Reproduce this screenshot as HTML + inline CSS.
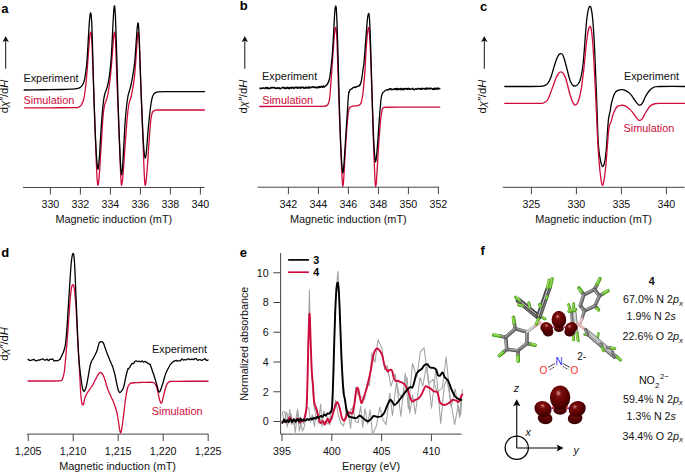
<!DOCTYPE html>
<html><head><meta charset="utf-8"><title>Figure</title><style>
html,body{margin:0;padding:0;background:#fff;overflow:hidden;}
svg{display:block;}
text{font-family:"Liberation Sans",sans-serif;}
</style></head><body>
<svg width="685" height="473" viewBox="0 0 685 473">
<rect width="685" height="473" fill="#fff"/>
<text x="1.2" y="12.6" font-size="13" text-anchor="start" font-weight="bold" font-style="normal" fill="#000" >a</text>
<line x1="5.7" y1="40" x2="5.7" y2="68.7" stroke="#111" stroke-width="1" />
<path d="M5.7,36 L2.5,42 L5.7,40.8 L8.9,42 Z" fill="#111"/>
<text transform="translate(7.9,113.2) rotate(-90)" font-size="11.2" fill="#111">d<tspan font-style="italic">χ</tspan><tspan dx="0.2">″</tspan><tspan dx="-0.3">/d</tspan><tspan font-style="italic">H</tspan></text>
<text x="23.4" y="81.8" font-size="10.9" text-anchor="start" font-weight="normal" font-style="normal" fill="#111" >Experiment</text>
<text x="23.5" y="103.8" font-size="10.9" text-anchor="start" font-weight="normal" font-style="normal" fill="#cf0b3b" >Simulation</text>
<line x1="23" y1="187.5" x2="204.5" y2="187.5" stroke="#444" stroke-width="1" />
<line x1="50.4" y1="187.5" x2="50.4" y2="194.5" stroke="#444" stroke-width="1" />
<text x="50.4" y="207.9" font-size="10.7" text-anchor="middle" font-weight="normal" font-style="normal" fill="#111" >330</text>
<line x1="80.4" y1="187.5" x2="80.4" y2="194.5" stroke="#444" stroke-width="1" />
<text x="80.4" y="207.9" font-size="10.7" text-anchor="middle" font-weight="normal" font-style="normal" fill="#111" >332</text>
<line x1="110.4" y1="187.5" x2="110.4" y2="194.5" stroke="#444" stroke-width="1" />
<text x="110.4" y="207.9" font-size="10.7" text-anchor="middle" font-weight="normal" font-style="normal" fill="#111" >334</text>
<line x1="140.4" y1="187.5" x2="140.4" y2="194.5" stroke="#444" stroke-width="1" />
<text x="140.4" y="207.9" font-size="10.7" text-anchor="middle" font-weight="normal" font-style="normal" fill="#111" >336</text>
<line x1="170.4" y1="187.5" x2="170.4" y2="194.5" stroke="#444" stroke-width="1" />
<text x="170.4" y="207.9" font-size="10.7" text-anchor="middle" font-weight="normal" font-style="normal" fill="#111" >338</text>
<line x1="200.4" y1="187.5" x2="200.4" y2="194.5" stroke="#444" stroke-width="1" />
<text x="200.4" y="207.9" font-size="10.7" text-anchor="middle" font-weight="normal" font-style="normal" fill="#111" >340</text>
<text x="113.8" y="223.1" font-size="10.9" text-anchor="middle" font-weight="normal" font-style="normal" fill="#111" >Magnetic induction (mT)</text>
<path d="M24.5,107.8C28.75,107.8 41.58,107.83 50,107.8C58.42,107.77 70.25,107.7 75,107.6C79.75,107.5 77.58,107.47 78.5,107.2C79.42,106.93 79.92,106.57 80.5,106C81.08,105.43 81.5,104.8 82,103.8C82.5,102.8 83.05,101.63 83.5,100C83.95,98.37 84.35,96.17 84.7,94C85.05,91.83 85.3,89.67 85.6,87C85.9,84.33 86.18,81.5 86.5,78C86.82,74.5 87.17,70.33 87.5,66C87.83,61.67 88.17,56.5 88.5,52C88.83,47.5 89.22,42.08 89.5,39C89.78,35.92 90,34.63 90.2,33.5C90.4,32.37 90.52,32.12 90.7,32.2C90.88,32.28 91.08,32.03 91.3,34C91.52,35.97 91.75,38.83 92,44C92.25,49.17 92.53,57.67 92.8,65C93.07,72.33 93.33,80.5 93.6,88C93.87,95.5 94.12,102.17 94.4,110C94.68,117.83 95,126.67 95.3,135C95.6,143.33 95.92,153 96.2,160C96.48,167 96.77,173 97,177C97.23,181 97.43,182.63 97.6,184C97.77,185.37 97.85,185.28 98,185.2C98.15,185.12 98.3,185.03 98.5,183.5C98.7,181.97 98.95,179.08 99.2,176C99.45,172.92 99.62,171 100,165C100.38,159 100.98,148.17 101.5,140C102.02,131.83 102.62,121.67 103.1,116C103.58,110.33 103.95,108.42 104.4,106C104.85,103.58 105.33,102.92 105.8,101.5C106.27,100.08 106.78,99.42 107.25,97.5C107.72,95.58 108.14,92.92 108.6,90C109.06,87.08 109.57,83.67 110,80C110.43,76.33 110.83,72.17 111.2,68C111.58,63.83 111.92,59.33 112.25,55C112.58,50.67 112.92,45.42 113.2,42C113.48,38.58 113.7,36.13 113.9,34.5C114.1,32.87 114.22,32.28 114.4,32.2C114.58,32.12 114.78,31.87 115,34C115.22,36.13 115.45,39.33 115.7,45C115.95,50.67 116.23,60.5 116.5,68C116.77,75.5 117.03,83 117.3,90C117.57,97 117.8,102.5 118.1,110C118.4,117.5 118.78,127 119.1,135C119.42,143 119.72,151 120,158C120.28,165 120.58,172.67 120.8,177C121.02,181.33 121.17,182.63 121.3,184C121.43,185.37 121.47,185.28 121.6,185.2C121.73,185.12 121.88,185.03 122.1,183.5C122.32,181.97 122.62,179.08 122.9,176C123.18,172.92 123.32,171 123.75,165C124.18,159 124.92,147.83 125.5,140C126.08,132.17 126.68,123.67 127.2,118C127.72,112.33 128.13,109 128.6,106C129.07,103 129.56,101.62 130,100C130.44,98.38 130.78,98.25 131.25,96.25C131.72,94.25 132.28,91.12 132.8,88C133.33,84.88 133.92,81.83 134.4,77.5C134.88,73.17 135.3,67.25 135.7,62C136.1,56.75 136.48,50.33 136.8,46C137.12,41.67 137.38,38.27 137.6,36C137.82,33.73 137.92,32.73 138.1,32.4C138.28,32.07 138.48,31.9 138.7,34C138.92,36.1 139.15,39.33 139.4,45C139.65,50.67 139.93,60.5 140.2,68C140.47,75.5 140.72,83 141,90C141.28,97 141.6,102.5 141.9,110C142.2,117.5 142.52,127 142.8,135C143.08,143 143.33,151 143.6,158C143.87,165 144.18,172.67 144.4,177C144.62,181.33 144.75,182.63 144.9,184C145.05,185.37 145.15,185.28 145.3,185.2C145.45,185.12 145.58,185.03 145.8,183.5C146.02,181.97 146.32,179.08 146.6,176C146.88,172.92 147.05,171.33 147.5,165C147.95,158.67 148.78,145.17 149.3,138C149.82,130.83 150.22,125.83 150.6,122C150.98,118.17 151.2,116.75 151.6,115C152,113.25 152.43,112.28 153,111.5C153.57,110.72 154.17,110.55 155,110.3C155.83,110.05 155.5,110.05 158,110C160.5,109.95 162.25,110 170,110C177.75,110 198.75,110 204.5,110" fill="none" stroke="#cf0b3b" stroke-width="1.3" stroke-linejoin="round" stroke-linecap="round" />
<path d="M24.2,90C26,89.97 30.7,89.85 35,89.8C39.3,89.75 45.5,89.75 50,89.7C54.5,89.65 58.67,89.58 62,89.5C65.33,89.42 67.83,89.32 70,89.2C72.17,89.08 73.67,88.95 75,88.8C76.33,88.65 77.08,88.57 78,88.3C78.92,88.03 79.75,87.75 80.5,87.2C81.25,86.65 81.92,85.95 82.5,85C83.08,84.05 83.58,82.83 84,81.5C84.42,80.17 84.67,78.92 85,77C85.33,75.08 85.68,72.5 86,70C86.32,67.5 86.6,65.67 86.9,62C87.2,58.33 87.5,53 87.8,48C88.1,43 88.4,36.83 88.7,32C89,27.17 89.35,22 89.6,19C89.85,16 90.03,15 90.2,14C90.37,13 90.45,12.92 90.6,13C90.75,13.08 90.9,12.67 91.1,14.5C91.3,16.33 91.57,18.92 91.8,24C92.03,29.08 92.25,36.5 92.5,45C92.75,53.5 93.02,65 93.3,75C93.58,85 93.88,95.5 94.2,105C94.52,114.5 94.87,124.17 95.2,132C95.53,139.83 95.88,146.67 96.2,152C96.52,157.33 96.85,161.25 97.1,164C97.35,166.75 97.53,167.7 97.7,168.5C97.87,169.3 97.93,169.38 98.1,168.8C98.27,168.22 98.45,167.47 98.7,165C98.95,162.53 99.25,159.17 99.6,154C99.95,148.83 100.37,140.67 100.8,134C101.23,127.33 101.75,119.5 102.2,114C102.65,108.5 103.07,104.33 103.5,101C103.93,97.67 104.34,95.83 104.8,94C105.26,92.17 105.8,91.33 106.25,90C106.7,88.67 107.08,87.67 107.5,86C107.92,84.33 108.33,82.5 108.75,80C109.17,77.5 109.59,74.67 110,71C110.41,67.33 110.83,63.17 111.2,58C111.57,52.83 111.88,46 112.2,40C112.52,34 112.83,27 113.1,22C113.37,17 113.6,12.63 113.8,10C114,7.37 114.13,6.62 114.3,6.2C114.47,5.78 114.6,5.53 114.8,7.5C115,9.47 115.25,12.25 115.5,18C115.75,23.75 116.02,33 116.3,42C116.58,51 116.9,61.83 117.2,72C117.5,82.17 117.78,93 118.1,103C118.42,113 118.77,123.17 119.1,132C119.43,140.83 119.8,149.67 120.1,156C120.4,162.33 120.67,166.92 120.9,170C121.13,173.08 121.3,174.17 121.5,174.5C121.7,174.83 121.85,174.42 122.1,172C122.35,169.58 122.67,165.33 123,160C123.33,154.67 123.72,146.67 124.1,140C124.48,133.33 124.87,125.83 125.3,120C125.73,114.17 126.25,109 126.7,105C127.15,101 127.53,98.42 128,96C128.47,93.58 129,92.33 129.5,90.5C130,88.67 130.5,87.17 131,85C131.5,82.83 132.03,80.17 132.5,77.5C132.97,74.83 133.4,71.92 133.8,69C134.2,66.08 134.55,63.83 134.9,60C135.25,56.17 135.58,50.5 135.9,46C136.22,41.5 136.53,36.42 136.8,33C137.07,29.58 137.32,27.13 137.5,25.5C137.68,23.87 137.75,23.37 137.9,23.2C138.05,23.03 138.2,22.53 138.4,24.5C138.6,26.47 138.85,29.42 139.1,35C139.35,40.58 139.62,49.83 139.9,58C140.18,66.17 140.5,75.67 140.8,84C141.1,92.33 141.38,100.33 141.7,108C142.02,115.67 142.37,123.5 142.7,130C143.03,136.5 143.38,142.67 143.7,147C144.02,151.33 144.35,154.12 144.6,156C144.85,157.88 144.98,158.3 145.2,158.3C145.42,158.3 145.62,158.05 145.9,156C146.18,153.95 146.53,150.33 146.9,146C147.27,141.67 147.68,134.83 148.1,130C148.52,125.17 148.97,121 149.4,117C149.83,113 150.27,109.08 150.7,106C151.13,102.92 151.53,100.42 152,98.5C152.47,96.58 152.92,95.48 153.5,94.5C154.08,93.52 154.75,93.03 155.5,92.6C156.25,92.17 156.42,92.07 158,91.9C159.58,91.73 160.5,91.65 165,91.6C169.5,91.55 178.42,91.58 185,91.6C191.58,91.62 201.25,91.68 204.5,91.7" fill="none" stroke="#000" stroke-width="1.3" stroke-linejoin="round" stroke-linecap="round" />
<text x="239.8" y="10.2" font-size="13" text-anchor="start" font-weight="bold" font-style="normal" fill="#000" >b</text>
<line x1="244.8" y1="40" x2="244.8" y2="68.7" stroke="#111" stroke-width="1" />
<path d="M244.8,36 L241.6,42 L244.8,40.8 L248,42 Z" fill="#111"/>
<text transform="translate(246.5,113.4) rotate(-90)" font-size="11.2" fill="#111">d<tspan font-style="italic">χ</tspan><tspan dx="0.2">″</tspan><tspan dx="-0.3">/d</tspan><tspan font-style="italic">H</tspan></text>
<text x="262.1" y="80.1" font-size="10.9" text-anchor="start" font-weight="normal" font-style="normal" fill="#111" >Experiment</text>
<text x="262.2" y="104.2" font-size="10.9" text-anchor="start" font-weight="normal" font-style="normal" fill="#cf0b3b" >Simulation</text>
<line x1="257.5" y1="187.2" x2="439.1" y2="187.2" stroke="#444" stroke-width="1" />
<line x1="288.4" y1="187.2" x2="288.4" y2="194.2" stroke="#444" stroke-width="1" />
<text x="288.4" y="207.8" font-size="10.7" text-anchor="middle" font-weight="normal" font-style="normal" fill="#111" >342</text>
<line x1="318.4" y1="187.2" x2="318.4" y2="194.2" stroke="#444" stroke-width="1" />
<text x="318.4" y="207.8" font-size="10.7" text-anchor="middle" font-weight="normal" font-style="normal" fill="#111" >344</text>
<line x1="348.4" y1="187.2" x2="348.4" y2="194.2" stroke="#444" stroke-width="1" />
<text x="348.4" y="207.8" font-size="10.7" text-anchor="middle" font-weight="normal" font-style="normal" fill="#111" >346</text>
<line x1="378.4" y1="187.2" x2="378.4" y2="194.2" stroke="#444" stroke-width="1" />
<text x="378.4" y="207.8" font-size="10.7" text-anchor="middle" font-weight="normal" font-style="normal" fill="#111" >348</text>
<line x1="408.4" y1="187.2" x2="408.4" y2="194.2" stroke="#444" stroke-width="1" />
<text x="408.4" y="207.8" font-size="10.7" text-anchor="middle" font-weight="normal" font-style="normal" fill="#111" >350</text>
<line x1="438.4" y1="187.2" x2="438.4" y2="194.2" stroke="#444" stroke-width="1" />
<text x="438.4" y="207.8" font-size="10.7" text-anchor="middle" font-weight="normal" font-style="normal" fill="#111" >352</text>
<text x="348.3" y="222.9" font-size="10.9" text-anchor="middle" font-weight="normal" font-style="normal" fill="#111" >Magnetic induction (mT)</text>
<path d="M259.8,106.5C266.5,106.48 289.63,106.43 300,106.4C310.37,106.37 317.73,106.37 322,106.3C326.27,106.23 324.68,106.22 325.6,106C326.52,105.78 326.98,105.58 327.5,105C328.02,104.42 328.37,103.83 328.75,102.5C329.13,101.17 329.49,99.58 329.8,97C330.11,94.42 330.32,90.67 330.6,87C330.88,83.33 331.18,79.33 331.5,75C331.82,70.67 332.17,65.83 332.5,61C332.83,56.17 333.17,50.5 333.5,46C333.83,41.5 334.22,36.92 334.5,34C334.78,31.08 335.02,29.58 335.2,28.5C335.38,27.42 335.45,27.42 335.6,27.5C335.75,27.58 335.88,26.92 336.1,29C336.32,31.08 336.63,34.5 336.9,40C337.17,45.5 337.43,54 337.7,62C337.97,70 338.23,79.67 338.5,88C338.77,96.33 339,103.67 339.3,112C339.6,120.33 339.97,129.67 340.3,138C340.63,146.33 341,155.33 341.3,162C341.6,168.67 341.88,174.17 342.1,178C342.32,181.83 342.47,183.67 342.6,185C342.73,186.33 342.78,186.17 342.9,186C343.02,185.83 343.13,185.67 343.3,184C343.47,182.33 343.65,180 343.9,176C344.15,172 344.42,166.5 344.8,160C345.18,153.5 345.75,143.67 346.2,137C346.65,130.33 347.1,124.42 347.5,120C347.9,115.58 348.18,112.62 348.6,110.5C349.02,108.38 349.35,108.02 350,107.3C350.65,106.58 351.5,106.45 352.5,106.2C353.5,105.95 354.96,105.93 356,105.8C357.04,105.67 358.05,105.65 358.75,105.4C359.45,105.15 359.78,104.78 360.2,104.3C360.62,103.82 360.92,103.55 361.25,102.5C361.58,101.45 361.89,99.75 362.2,98C362.51,96.25 362.78,94.83 363.1,92C363.42,89.17 363.78,84.67 364.1,81C364.42,77.33 364.68,74.83 365,70C365.32,65.17 365.67,57.33 366,52C366.33,46.67 366.68,41.75 367,38C367.32,34.25 367.65,31.27 367.9,29.5C368.15,27.73 368.3,27.4 368.5,27.4C368.7,27.4 368.87,27.4 369.1,29.5C369.33,31.6 369.65,35.75 369.9,40C370.15,44.25 370.33,48 370.6,55C370.87,62 371.18,72.5 371.5,82C371.82,91.5 372.18,102.33 372.5,112C372.82,121.67 373.1,131.33 373.4,140C373.7,148.67 374.03,157.33 374.3,164C374.57,170.67 374.82,176.42 375,180C375.18,183.58 375.27,184.5 375.4,185.5C375.53,186.5 375.65,186.42 375.8,186C375.95,185.58 376.1,185.33 376.3,183C376.5,180.67 376.8,175.17 377,172C377.2,168.83 377.17,169.33 377.5,164C377.83,158.67 378.53,146.83 379,140C379.47,133.17 379.93,127.17 380.3,123C380.68,118.83 380.88,117.38 381.25,115C381.62,112.62 382.08,109.98 382.5,108.75C382.92,107.52 383.23,107.85 383.75,107.6C384.27,107.35 382.89,107.33 385.6,107.25C388.31,107.17 390.97,107.12 400,107.1C409.03,107.07 433.17,107.1 439.8,107.1" fill="none" stroke="#cf0b3b" stroke-width="1.3" stroke-linejoin="round" stroke-linecap="round" />
<path d="M259.8,88.13 L260.35,88.28 L260.9,88.83 L261.45,88.13 L262,88.19 L262.55,88.3 L263.1,87.69 L263.65,88.18 L264.21,88.35 L264.76,88.59 L265.31,87.54 L265.86,87.84 L266.41,87.52 L266.96,88.59 L267.51,88.41 L268.06,87.43 L268.61,88.84 L269.16,88.8 L269.71,88.33 L270.26,88.27 L270.81,87.58 L271.36,87.36 L271.92,88.12 L272.47,87.41 L273.02,87.6 L273.57,87.68 L274.12,87.35 L274.67,88 L275.22,87.96 L275.77,88.55 L276.32,88.06 L276.87,88.24 L277.42,88.02 L277.97,88.26 L278.52,87.95 L279.07,87.68 L279.62,88.75 L280.18,88.74 L280.73,88.5 L281.28,88.3 L281.83,87.7 L282.38,87.57 L282.93,87.65 L283.48,87.32 L284.03,88.36 L284.58,87.8 L285.13,88.47 L285.68,87.77 L286.23,88.62 L286.78,88.45 L287.33,87.18 L287.88,87.49 L288.44,88.53 L288.99,87.86 L289.54,88.62 L290.09,87.74 L290.64,87.25 L291.19,88.08 L291.74,88.3 L292.29,87.53 L292.84,87.25 L293.39,87.61 L293.94,88.56 L294.49,88.24 L295.04,87.28 L295.59,87.46 L296.15,87.24 L296.7,87.17 L297.25,88.27 L297.8,87.34 L298.35,87.91 L298.9,87.73 L299.45,87.34 L300,88.15 L300.56,87.23 L301.12,87.98 L301.69,87.17 L302.25,87.61 L302.81,87.28 L303.38,87.34 L303.94,88.38 L304.5,88.11 L305.06,87.34 L305.62,88.19 L306.19,87.16 L306.75,87.42 L307.31,88.09 L307.88,87.75 L308.44,86.92 L309,88.23 L309.56,87.05 L310.12,87.1 L310.69,87.85 L311.25,87.17 L311.81,87.1 L312.38,86.75 L312.94,86.75 L313.5,87.47 L314.06,86.95 L314.62,87.46 L315.19,87.1 L315.75,87.2 L316.31,87.94 L316.88,87.21 L317.44,87.33 L318,87.75 L318.58,86.65 L319.17,86.52 L319.75,87.58 L320.33,87.36 L320.92,86.43 L321.5,86.26 L322.08,87 L322.67,87.23 L323.25,86.03 L323.83,87.08 L324.42,86.9 L325,86.41 L327.2,84.5 L328.75,81.25" fill="none" stroke="#000" stroke-width="1.45" stroke-linejoin="round" stroke-linecap="round" />
<path d="M328.75,81.25C328.93,80.54 329.49,78.67 329.8,77C330.11,75.33 330.3,73.75 330.6,71.25C330.9,68.75 331.28,65.21 331.6,62C331.92,58.79 332.18,56.5 332.5,52C332.82,47.5 333.18,40.67 333.5,35C333.82,29.33 334.15,22.25 334.4,18C334.65,13.75 334.8,11.47 335,9.5C335.2,7.53 335.4,6.45 335.6,6.2C335.8,5.95 335.98,5.7 336.2,8C336.42,10.3 336.67,14.67 336.9,20C337.13,25.33 337.35,31.67 337.6,40C337.85,48.33 338.13,60 338.4,70C338.67,80 338.93,90.83 339.2,100C339.47,109.17 339.72,117 340,125C340.28,133 340.6,141.5 340.9,148C341.2,154.5 341.55,160.17 341.8,164C342.05,167.83 342.23,169.47 342.4,171C342.57,172.53 342.65,173.2 342.8,173.2C342.95,173.2 343.08,172.87 343.3,171C343.52,169.13 343.78,166.33 344.1,162C344.42,157.67 344.8,151.17 345.2,145C345.6,138.83 346.12,130.83 346.5,125C346.88,119.17 347.23,114.17 347.5,110C347.77,105.83 347.89,102.92 348.1,100C348.31,97.08 348.64,93.75 348.75,92.5" fill="none" stroke="#000" stroke-width="1.3" stroke-linejoin="round" stroke-linecap="round" />
<path d="M348.75,92.5 L350,89.71 L350.62,89.6 L351.25,88.97 L351.94,88.91 L352.62,87.85 L353.31,87.64 L354,87.28 L354.68,87.16 L355.36,87.57 L356.04,86.63 L356.71,86.91 L357.39,86.32 L358.07,86.21 L358.75,86.17 L360.2,84.5" fill="none" stroke="#000" stroke-width="1.4" stroke-linejoin="round" stroke-linecap="round" />
<path d="M360.2,84.5C360.38,83.96 360.9,82.83 361.25,81.25C361.6,79.67 361.98,77.21 362.3,75C362.62,72.79 362.96,69.67 363.2,68C363.44,66.33 363.55,66.67 363.75,65C363.95,63.33 364.19,60.5 364.4,58C364.61,55.5 364.75,53.33 365,50C365.25,46.67 365.6,42 365.9,38C366.2,34 366.5,29.5 366.8,26C367.1,22.5 367.42,19.07 367.7,17C367.98,14.93 368.25,13.85 368.5,13.6C368.75,13.35 368.97,13.43 369.2,15.5C369.43,17.57 369.67,21.08 369.9,26C370.13,30.92 370.33,36.83 370.6,45C370.87,53.17 371.18,64.5 371.5,75C371.82,85.5 372.18,98.33 372.5,108C372.82,117.67 373.08,125.67 373.4,133C373.72,140.33 374.12,147.58 374.4,152C374.68,156.42 374.9,157.85 375.1,159.5C375.3,161.15 375.42,161.98 375.6,161.9C375.78,161.82 375.95,160.98 376.2,159C376.45,157.02 376.75,154.17 377.1,150C377.45,145.83 377.92,139.33 378.3,134C378.68,128.67 379.05,122.67 379.4,118C379.75,113.33 380.09,109.42 380.4,106C380.71,102.58 380.9,99.62 381.25,97.5C381.6,95.38 382.08,94.23 382.5,93.3C382.92,92.37 383.23,92.4 383.75,91.9C384.27,91.4 384.98,90.66 385.6,90.3C386.23,89.94 387.18,89.84 387.5,89.75" fill="none" stroke="#000" stroke-width="1.3" stroke-linejoin="round" stroke-linecap="round" />
<path d="M387.5,89.71 L388.12,89.87 L388.75,89.77 L389.38,88.88 L390,88.57 L390.56,89.1 L391.11,88.94 L391.67,89.73 L392.22,89.54 L392.78,89.4 L393.33,89.32 L393.89,89.46 L394.44,88.68 L395,89.11 L395.56,88.68 L396.11,89.79 L396.67,88.5 L397.22,89.63 L397.78,88.51 L398.33,89.41 L398.89,88.88 L399.44,88.97 L400,89.61 L400.56,88.37 L401.11,88.43 L401.67,89.71 L402.22,89.09 L402.78,88.46 L403.33,89.8 L403.89,89.73 L404.44,88.47 L405,88.93 L405.56,88.5 L406.11,88.76 L406.67,89.22 L407.22,88.52 L407.78,89.32 L408.33,88.34 L408.89,88.52 L409.44,89.48 L410,88.85 L410.56,88.87 L411.11,89.13 L411.67,88.95 L412.22,88.8 L412.78,88.27 L413.33,89.31 L413.89,89.66 L414.44,89.67 L415,89.2 L415.56,88.73 L416.11,88.73 L416.67,89.22 L417.22,89.19 L417.78,88.34 L418.33,88.52 L418.89,88.71 L419.44,88.92 L420,89.37 L420.55,88.89 L421.1,88.18 L421.65,89.36 L422.2,88.76 L422.75,88.89 L423.3,88.43 L423.85,88.73 L424.4,88.67 L424.95,89.23 L425.5,88.22 L426.05,88.88 L426.6,88.32 L427.15,89.09 L427.7,88.09 L428.25,88.44 L428.8,88.53 L429.35,88.96 L429.9,88.08 L430.45,88.68 L431,88.3 L431.55,88.4 L432.1,88.68 L432.65,89.4 L433.2,88.67 L433.75,89.38 L434.3,88.18 L434.85,89.31 L435.4,88.46 L435.95,88.19 L436.5,89.02 L437.05,89.26 L437.6,87.89 L438.15,88.28 L438.7,89.02 L439.25,88.37 L439.8,88.6" fill="none" stroke="#000" stroke-width="1.45" stroke-linejoin="round" stroke-linecap="round" />
<text x="480" y="10.6" font-size="13" text-anchor="start" font-weight="bold" font-style="normal" fill="#000" >c</text>
<line x1="484.3" y1="40" x2="484.3" y2="68.7" stroke="#111" stroke-width="1" />
<path d="M484.3,36 L481.1,42 L484.3,40.8 L487.5,42 Z" fill="#111"/>
<text transform="translate(486.3,113.4) rotate(-90)" font-size="11.2" fill="#111">d<tspan font-style="italic">χ</tspan><tspan dx="0.2">″</tspan><tspan dx="-0.3">/d</tspan><tspan font-style="italic">H</tspan></text>
<text x="623.9" y="79.6" font-size="10.9" text-anchor="start" font-weight="normal" font-style="normal" fill="#111" >Experiment</text>
<text x="623.5" y="132.4" font-size="10.9" text-anchor="start" font-weight="normal" font-style="normal" fill="#cf0b3b" >Simulation</text>
<line x1="502.8" y1="187.3" x2="684.6" y2="187.3" stroke="#444" stroke-width="1" />
<line x1="531.4" y1="187.3" x2="531.4" y2="194.3" stroke="#444" stroke-width="1" />
<text x="531.4" y="207.9" font-size="10.7" text-anchor="middle" font-weight="normal" font-style="normal" fill="#111" >325</text>
<line x1="576.4" y1="187.3" x2="576.4" y2="194.3" stroke="#444" stroke-width="1" />
<text x="576.4" y="207.9" font-size="10.7" text-anchor="middle" font-weight="normal" font-style="normal" fill="#111" >330</text>
<line x1="621.4" y1="187.3" x2="621.4" y2="194.3" stroke="#444" stroke-width="1" />
<text x="621.4" y="207.9" font-size="10.7" text-anchor="middle" font-weight="normal" font-style="normal" fill="#111" >335</text>
<line x1="666.4" y1="187.3" x2="666.4" y2="194.3" stroke="#444" stroke-width="1" />
<text x="666.4" y="207.9" font-size="10.7" text-anchor="middle" font-weight="normal" font-style="normal" fill="#111" >340</text>
<text x="593.6" y="223" font-size="10.9" text-anchor="middle" font-weight="normal" font-style="normal" fill="#111" >Magnetic induction (mT)</text>
<path d="M504.8,86.5C509,86.5 524.13,86.52 530,86.5C535.87,86.48 537.92,86.47 540,86.4C542.08,86.33 541.67,86.28 542.5,86.1C543.33,85.92 544.17,85.72 545,85.3C545.83,84.88 546.75,84.4 547.5,83.6C548.25,82.8 548.88,81.72 549.5,80.5C550.12,79.28 550.67,77.92 551.25,76.25C551.83,74.58 552.38,72.58 553,70.5C553.62,68.42 554.33,65.83 555,63.75C555.67,61.67 556.33,59.54 557,58C557.67,56.46 558.35,55.22 559,54.5C559.65,53.78 560.27,53.62 560.9,53.7C561.53,53.78 562.23,54.12 562.8,55C563.37,55.88 563.83,57.54 564.3,59C564.77,60.46 565.07,61.75 565.6,63.75C566.13,65.75 566.87,68.54 567.5,71C568.13,73.46 568.77,76.45 569.4,78.5C570.03,80.55 570.67,82.12 571.3,83.3C571.93,84.48 572.58,85.15 573.2,85.6C573.82,86.05 574.4,86.05 575,86C575.6,85.95 576.22,85.72 576.8,85.3C577.38,84.88 577.97,84.3 578.5,83.5C579.03,82.7 579.48,82.08 580,80.5C580.52,78.92 581.08,76.79 581.6,74C582.12,71.21 582.65,67.75 583.1,63.75C583.55,59.75 583.9,54.96 584.3,50C584.7,45.04 585.1,39 585.5,34C585.9,29 586.28,23.83 586.7,20C587.12,16.17 587.58,13.17 588,11C588.42,8.83 588.87,7.78 589.2,7C589.53,6.22 589.72,6.22 590,6.3C590.28,6.38 590.57,6.38 590.9,7.5C591.23,8.62 591.62,10.08 592,13C592.38,15.92 592.8,19.67 593.2,25C593.6,30.33 594.03,37.83 594.4,45C594.77,52.17 595.08,60.5 595.4,68C595.72,75.5 596,82.17 596.3,90C596.6,97.83 596.9,106.67 597.2,115C597.5,123.33 597.78,133.83 598.1,140C598.42,146.17 598.73,148.75 599.1,152C599.47,155.25 599.9,157.42 600.3,159.5C600.7,161.58 601.09,163.32 601.5,164.5C601.91,165.68 602.33,166.6 602.75,166.6C603.17,166.6 603.59,165.77 604,164.5C604.41,163.23 604.82,161.58 605.2,159C605.58,156.42 605.95,153 606.3,149C606.65,145 606.98,139.5 607.3,135C607.62,130.5 607.92,125.17 608.2,122C608.48,118.83 608.7,117.67 609,116C609.3,114.33 609.62,114 610,112C610.38,110 610.88,106.08 611.3,104C611.72,101.92 612.09,100.92 612.5,99.5C612.91,98.08 613.25,96.72 613.75,95.5C614.25,94.28 614.88,93.02 615.5,92.2C616.12,91.38 616.75,91 617.5,90.6C618.25,90.2 619.17,89.95 620,89.8C620.83,89.65 621.58,89.57 622.5,89.7C623.42,89.83 624.46,90.13 625.5,90.6C626.54,91.07 627.78,91.73 628.75,92.5C629.72,93.27 630.47,94.16 631.3,95.2C632.13,96.24 632.88,97.52 633.75,98.75C634.62,99.98 635.71,101.61 636.5,102.6C637.29,103.59 637.96,104.28 638.5,104.7C639.04,105.12 639.25,105.18 639.75,105.1C640.25,105.02 640.91,104.8 641.5,104.2C642.09,103.6 642.72,102.62 643.3,101.5C643.88,100.38 644.3,98.88 645,97.5C645.7,96.12 646.67,94.45 647.5,93.2C648.33,91.95 649.17,90.87 650,90C650.83,89.13 651.67,88.52 652.5,88C653.33,87.48 653.75,87.15 655,86.9C656.25,86.65 655,86.57 660,86.5C665,86.43 680.83,86.5 685,86.5" fill="none" stroke="#000" stroke-width="1.3" stroke-linejoin="round" stroke-linecap="round" />
<path d="M504.8,103.4C509,103.4 523.97,103.4 530,103.4C536.03,103.4 538.82,103.45 541,103.4C543.18,103.35 542.35,103.37 543.1,103.1C543.85,102.83 544.77,102.32 545.5,101.8C546.23,101.28 546.75,101.22 547.5,100C548.25,98.78 549.17,96.58 550,94.5C550.83,92.42 551.75,89.58 552.5,87.5C553.25,85.42 553.88,83.67 554.5,82C555.12,80.33 555.58,78.92 556.25,77.5C556.92,76.08 557.71,74.43 558.5,73.5C559.29,72.57 560.2,71.9 561,71.9C561.8,71.9 562.53,72.48 563.3,73.5C564.07,74.52 564.85,75.92 565.6,78C566.35,80.08 567.07,83.25 567.8,86C568.53,88.75 569.3,92.08 570,94.5C570.7,96.92 571.37,98.92 572,100.5C572.63,102.08 573.26,103.25 573.8,104C574.34,104.75 574.72,105.03 575.25,105C575.78,104.97 576.46,104.55 577,103.8C577.54,103.05 578,101.97 578.5,100.5C579,99.03 579.5,97.17 580,95C580.5,92.83 581.05,90.33 581.5,87.5C581.95,84.67 582.33,80.92 582.7,78C583.08,75.08 583.4,73.17 583.75,70C584.1,66.83 584.42,62.83 584.8,59C585.17,55.17 585.6,50.67 586,47C586.4,43.33 586.8,39.83 587.2,37C587.6,34.17 588.05,31.67 588.4,30C588.75,28.33 589.03,27.62 589.3,27C589.57,26.38 589.75,26.22 590,26.3C590.25,26.38 590.5,26.38 590.8,27.5C591.1,28.62 591.47,30.25 591.8,33C592.13,35.75 592.47,39.67 592.8,44C593.12,48.33 593.45,53.83 593.75,59C594.05,64.17 594.33,69.83 594.6,75C594.88,80.17 595.12,84.17 595.4,90C595.68,95.83 596,103.33 596.3,110C596.6,116.67 596.9,123.67 597.2,130C597.5,136.33 597.77,142.5 598.1,148C598.43,153.5 598.83,158.67 599.2,163C599.57,167.33 599.93,170.83 600.3,174C600.67,177.17 601.03,180.1 601.4,182C601.77,183.9 602.12,185.4 602.5,185.4C602.88,185.4 603.32,183.73 603.7,182C604.08,180.27 604.45,177.67 604.8,175C605.15,172.33 605.47,169.5 605.8,166C606.13,162.5 606.5,157.83 606.8,154C607.1,150.17 607.32,146.67 607.6,143C607.88,139.33 608.17,135 608.5,132C608.83,129 609.14,126.79 609.6,125C610.06,123.21 610.68,123 611.25,121.25C611.82,119.5 612.38,116.38 613,114.5C613.62,112.62 614.42,111.2 615,110C615.58,108.8 615.88,107.98 616.5,107.3C617.12,106.62 618,106.23 618.75,105.9C619.5,105.57 620.38,105.41 621,105.3C621.62,105.19 621.92,105.2 622.5,105.25C623.08,105.3 623.75,105.31 624.5,105.6C625.25,105.89 626.08,106.37 627,107C627.92,107.63 629,108.4 630,109.4C631,110.4 631.96,111.65 633,113C634.04,114.35 635.37,116.35 636.25,117.5C637.13,118.65 637.67,119.42 638.3,119.9C638.92,120.38 639.42,120.48 640,120.4C640.58,120.32 641.25,119.95 641.8,119.4C642.35,118.85 642.77,118.04 643.3,117.1C643.83,116.16 644.3,115 645,113.75C645.7,112.5 646.67,110.85 647.5,109.6C648.33,108.35 649.17,107.08 650,106.25C650.83,105.42 651.67,105.02 652.5,104.6C653.33,104.18 653.75,103.95 655,103.75C656.25,103.55 655,103.46 660,103.4C665,103.34 680.83,103.4 685,103.4" fill="none" stroke="#cf0b3b" stroke-width="1.3" stroke-linejoin="round" stroke-linecap="round" />
<text x="1.3" y="257" font-size="13" text-anchor="start" font-weight="bold" font-style="normal" fill="#000" >d</text>
<text transform="translate(7.9,360.8) rotate(-90)" font-size="11.2" fill="#111">d<tspan font-style="italic">χ</tspan><tspan dx="0.2">″</tspan><tspan dx="-0.3">/d</tspan><tspan font-style="italic">H</tspan></text>
<text x="152" y="353.2" font-size="10.9" text-anchor="start" font-weight="normal" font-style="normal" fill="#111" >Experiment</text>
<text x="151.8" y="415" font-size="10.9" text-anchor="start" font-weight="normal" font-style="normal" fill="#cf0b3b" >Simulation</text>
<line x1="26.9" y1="434.1" x2="208.2" y2="434.1" stroke="#444" stroke-width="1" />
<line x1="28.2" y1="434.1" x2="28.2" y2="441.1" stroke="#444" stroke-width="1" />
<text x="28.2" y="454.9" font-size="10.7" text-anchor="middle" font-weight="normal" font-style="normal" fill="#111" >1,205</text>
<line x1="73.2" y1="434.1" x2="73.2" y2="441.1" stroke="#444" stroke-width="1" />
<text x="73.2" y="454.9" font-size="10.7" text-anchor="middle" font-weight="normal" font-style="normal" fill="#111" >1,210</text>
<line x1="118.2" y1="434.1" x2="118.2" y2="441.1" stroke="#444" stroke-width="1" />
<text x="118.2" y="454.9" font-size="10.7" text-anchor="middle" font-weight="normal" font-style="normal" fill="#111" >1,215</text>
<line x1="163.2" y1="434.1" x2="163.2" y2="441.1" stroke="#444" stroke-width="1" />
<text x="163.2" y="454.9" font-size="10.7" text-anchor="middle" font-weight="normal" font-style="normal" fill="#111" >1,220</text>
<line x1="208.2" y1="434.1" x2="208.2" y2="441.1" stroke="#444" stroke-width="1" />
<text x="208.2" y="454.9" font-size="10.7" text-anchor="middle" font-weight="normal" font-style="normal" fill="#111" >1,225</text>
<text x="117.6" y="470.2" font-size="10.9" text-anchor="middle" font-weight="normal" font-style="normal" fill="#111" >Magnetic induction (mT)</text>
<path d="M28.1,381C31.75,381 44.68,381.02 50,381C55.32,380.98 58.08,381 60,380.9C61.92,380.8 61.08,380.73 61.5,380.4C61.92,380.07 62.17,379.72 62.5,378.9C62.83,378.08 63.18,376.77 63.5,375.5C63.82,374.23 64.1,373.5 64.4,371.25C64.7,369 65,365.21 65.3,362C65.6,358.79 65.92,355.33 66.2,352C66.48,348.67 66.73,345.33 67,342C67.27,338.67 67.53,335.5 67.8,332C68.07,328.5 68.33,324.67 68.6,321C68.87,317.33 69.13,313.67 69.4,310C69.67,306.33 69.93,302.17 70.2,299C70.47,295.83 70.73,293.08 71,291C71.27,288.92 71.55,287.5 71.8,286.5C72.05,285.5 72.28,285.28 72.5,285C72.72,284.72 72.9,284.72 73.1,284.8C73.3,284.88 73.48,284.8 73.7,285.5C73.92,286.2 74.17,287.25 74.4,289C74.63,290.75 74.85,293.33 75.1,296C75.35,298.67 75.62,300.67 75.9,305C76.18,309.33 76.5,316.17 76.8,322C77.1,327.83 77.4,334.33 77.7,340C78,345.67 78.32,351.17 78.6,356C78.88,360.83 79.15,364.67 79.4,369C79.65,373.33 79.88,378 80.1,382C80.32,386 80.48,389.92 80.7,393C80.92,396.08 81.17,398.67 81.4,400.5C81.63,402.33 81.85,403.25 82.1,404C82.35,404.75 82.65,405.03 82.9,405C83.15,404.97 83.37,404.55 83.6,403.8C83.83,403.05 84.05,401.55 84.3,400.5C84.55,399.45 84.78,398.42 85.1,397.5C85.42,396.58 85.8,395.83 86.2,395C86.6,394.17 86.92,393.45 87.5,392.5C88.08,391.55 88.97,390.34 89.7,389.3C90.43,388.26 91.22,387.33 91.9,386.25C92.58,385.17 93.23,383.88 93.8,382.8C94.37,381.73 94.8,380.77 95.3,379.8C95.8,378.83 96.3,377.92 96.8,377C97.3,376.08 97.85,375 98.3,374.3C98.75,373.6 99.15,373.1 99.5,372.8C99.85,372.5 100.07,372.47 100.4,372.5C100.73,372.53 101.13,372.68 101.5,373C101.87,373.32 102.22,373.82 102.6,374.4C102.98,374.98 103.4,375.57 103.8,376.5C104.2,377.43 104.58,378.67 105,380C105.42,381.33 105.88,383.08 106.3,384.5C106.72,385.92 107.08,387.28 107.5,388.5C107.92,389.72 108.38,390.8 108.8,391.8C109.22,392.8 109.47,393.33 110,394.5C110.53,395.67 111.38,397.47 112,398.8C112.62,400.13 113.25,401.3 113.75,402.5C114.25,403.7 114.58,404.75 115,406C115.42,407.25 115.83,408.42 116.25,410C116.67,411.58 117.11,413.42 117.5,415.5C117.89,417.58 118.25,420.17 118.6,422.5C118.95,424.83 119.28,427.75 119.6,429.5C119.92,431.25 120.2,432.83 120.5,433C120.8,433.17 121.08,431.92 121.4,430.5C121.72,429.08 122.03,427.08 122.4,424.5C122.77,421.92 123.18,418.42 123.6,415C124.02,411.58 124.5,407.17 124.9,404C125.3,400.83 125.67,398.17 126,396C126.33,393.83 126.6,392.47 126.9,391C127.2,389.53 127.49,388.2 127.8,387.2C128.11,386.2 128.38,385.58 128.75,385C129.12,384.42 129.54,384.03 130,383.7C130.46,383.37 130.67,383.17 131.5,383C132.33,382.83 133.58,382.78 135,382.7C136.42,382.62 138.33,382.57 140,382.5C141.67,382.43 143.33,382.34 145,382.3C146.67,382.26 148.75,382.24 150,382.25C151.25,382.26 151.83,382.24 152.5,382.35C153.17,382.46 153.58,382.66 154,382.9C154.42,383.14 154.62,383.23 155,383.8C155.38,384.37 155.88,385.18 156.3,386.3C156.72,387.42 157.1,388.92 157.5,390.5C157.9,392.08 158.33,394.18 158.7,395.8C159.07,397.42 159.4,399.07 159.7,400.2C160,401.33 160.24,402.12 160.5,402.6C160.76,403.08 161,403.17 161.25,403.1C161.5,403.03 161.72,402.92 162,402.2C162.28,401.48 162.55,400.23 162.9,398.8C163.25,397.37 163.7,395.27 164.1,393.6C164.5,391.93 164.88,390.23 165.3,388.8C165.72,387.37 166.15,386 166.6,385C167.05,384 167.43,383.35 168,382.8C168.57,382.25 169.17,381.95 170,381.7C170.83,381.45 166.65,381.38 173,381.3C179.35,381.23 202.25,381.26 208.1,381.25" fill="none" stroke="#cf0b3b" stroke-width="1.3" stroke-linejoin="round" stroke-linecap="round" />
<path d="M60,359.3C60.21,358.88 60.83,357.63 61.25,356.8C61.67,355.97 62.08,355.23 62.5,354.3C62.92,353.38 63.38,352.3 63.75,351.25C64.12,350.2 64.41,349.29 64.7,348C64.99,346.71 65.24,345.42 65.5,343.5C65.76,341.58 65.98,339.42 66.25,336.5C66.52,333.58 66.82,329.92 67.1,326C67.38,322.08 67.62,317.5 67.9,313C68.18,308.5 68.5,303.67 68.8,299C69.1,294.33 69.4,289.67 69.7,285C70,280.33 70.3,275.08 70.6,271C70.9,266.92 71.2,263.2 71.5,260.5C71.8,257.8 72.13,255.97 72.4,254.8C72.67,253.63 72.87,253.47 73.1,253.5C73.33,253.53 73.57,253.5 73.8,255C74.03,256.5 74.27,258.83 74.5,262.5C74.73,266.17 74.97,271.75 75.2,277C75.43,282.25 75.65,288 75.9,294C76.15,300 76.43,306.67 76.7,313C76.97,319.33 77.23,326 77.5,332C77.77,338 78.05,344.33 78.3,349C78.55,353.67 78.75,356.75 79,360C79.25,363.25 79.52,365.83 79.8,368.5C80.08,371.17 80.38,373.5 80.7,376C81.02,378.5 81.37,381.33 81.7,383.5C82.03,385.67 82.36,387.7 82.7,389C83.04,390.3 83.38,391.08 83.75,391.3C84.12,391.52 84.48,391.1 84.9,390.3C85.32,389.5 85.82,388.13 86.25,386.5C86.68,384.87 87.08,382.67 87.5,380.5C87.92,378.33 88.33,375.83 88.75,373.5C89.17,371.17 89.59,368.42 90,366.5C90.41,364.58 90.78,363.15 91.2,362C91.62,360.85 92.08,360.35 92.5,359.6C92.92,358.85 93.33,358.27 93.75,357.5C94.17,356.73 94.58,355.83 95,355C95.42,354.17 95.85,353.42 96.25,352.5C96.65,351.58 97.06,350.62 97.4,349.5C97.74,348.38 98,346.88 98.3,345.8C98.6,344.72 98.87,343.65 99.2,343C99.53,342.35 99.92,342.13 100.3,341.9C100.68,341.67 101.12,341.58 101.5,341.6C101.88,341.62 102.23,341.63 102.6,342C102.97,342.37 103.3,342.88 103.7,343.8C104.1,344.72 104.48,346.05 105,347.5C105.52,348.95 106.17,350.83 106.8,352.5C107.42,354.17 108.12,355.92 108.75,357.5C109.38,359.08 109.97,360.54 110.6,362C111.22,363.46 111.97,364.83 112.5,366.25C113.03,367.67 113.38,369.04 113.8,370.5C114.22,371.96 114.58,373.17 115,375C115.42,376.83 115.88,379.47 116.3,381.5C116.72,383.53 117.12,385.62 117.5,387.2C117.88,388.78 118.22,390.12 118.6,391C118.97,391.88 119.35,392.4 119.75,392.5C120.15,392.6 120.54,392.07 121,391.6C121.46,391.13 122.04,390.5 122.5,389.7C122.96,388.9 123.33,388.25 123.75,386.8C124.17,385.35 124.58,382.97 125,381C125.42,379.03 125.88,376.62 126.25,375C126.62,373.38 126.89,372.34 127.2,371.3C127.51,370.26 127.95,369.18 128.1,368.75" fill="none" stroke="#000" stroke-width="1.3" stroke-linejoin="round" stroke-linecap="round" />
<path d="M28.1,359.26C28.34,359.46 29.07,360.25 29.55,360.42C30.03,360.59 30.52,360.37 31,360.3C31.48,360.22 31.97,360.11 32.45,359.95C32.93,359.8 33.42,359.26 33.9,359.38C34.38,359.49 34.87,360.43 35.35,360.64C35.83,360.86 36.32,360.78 36.8,360.68C37.28,360.57 37.77,360.14 38.25,360.03C38.73,359.92 39.22,360.11 39.7,360.01C40.18,359.91 40.67,359.6 41.15,359.42C41.63,359.24 42.12,358.86 42.6,358.91C43.08,358.96 43.57,359.5 44.05,359.72C44.53,359.93 45.02,360.3 45.5,360.19C45.98,360.08 46.47,358.98 46.95,359.05C47.43,359.13 47.92,360.59 48.4,360.65C48.88,360.71 49.37,359.62 49.85,359.41C50.33,359.21 50.82,359.48 51.3,359.41C51.78,359.34 52.27,358.71 52.75,358.99C53.23,359.27 53.72,360.84 54.2,361.09C54.68,361.35 55.17,360.57 55.65,360.53C56.13,360.48 56.62,360.87 57.1,360.83C57.58,360.78 58.07,360.51 58.55,360.25C59.03,360 59.76,359.46 60,359.3" fill="none" stroke="#000" stroke-width="1.3" stroke-linejoin="round" stroke-linecap="round" />
<path d="M128.1,368.75C128.32,368.6 128.95,368.42 129.4,367.86C129.85,367.3 130.33,366.1 130.8,365.38C131.27,364.67 131.73,363.87 132.2,363.55C132.67,363.24 133.13,363.88 133.6,363.5C134.07,363.12 134.53,361.71 135,361.28C135.47,360.85 135.93,360.85 136.4,360.91C136.87,360.96 137.33,361.58 137.8,361.6C138.27,361.62 138.73,360.99 139.2,361.04C139.67,361.09 140.13,361.92 140.6,361.9C141.07,361.88 141.53,360.87 142,360.92C142.47,360.97 142.93,362.12 143.4,362.2C143.87,362.27 144.33,361.41 144.8,361.39C145.27,361.36 145.73,361.75 146.2,362.05C146.67,362.35 147.13,362.9 147.6,363.18C148.07,363.47 148.6,363.55 149,363.76C149.4,363.96 149.83,364.29 150,364.4" fill="none" stroke="#000" stroke-width="1.3" stroke-linejoin="round" stroke-linecap="round" />
<path d="M150,364.4C150.22,364.92 150.88,366.36 151.3,367.5C151.72,368.64 152.08,370.03 152.5,371.25C152.92,372.47 153.38,373.55 153.8,374.8C154.22,376.05 154.58,377.38 155,378.75C155.42,380.12 155.88,381.57 156.3,383C156.72,384.43 157.17,386.05 157.5,387.3C157.83,388.55 158.05,389.72 158.3,390.5C158.55,391.28 158.72,391.88 159,392C159.28,392.12 159.62,391.87 160,391.2C160.38,390.53 160.83,389.12 161.25,388C161.67,386.88 162.04,385.97 162.5,384.5C162.96,383.03 163.48,380.97 164,379.2C164.52,377.43 165.07,375.38 165.6,373.9C166.13,372.42 166.67,371.38 167.2,370.3C167.72,369.22 168.18,368.42 168.75,367.4C169.32,366.38 169.97,365.05 170.6,364.2C171.22,363.35 171.93,362.82 172.5,362.3C173.07,361.78 173.38,361.4 174,361.1C174.62,360.8 175.88,360.6 176.25,360.5" fill="none" stroke="#000" stroke-width="1.3" stroke-linejoin="round" stroke-linecap="round" />
<path d="M176.25,360.5C176.46,360.55 177.05,360.72 177.5,360.78C177.95,360.83 178.47,360.84 178.95,360.83C179.43,360.82 179.92,361.03 180.4,360.7C180.88,360.37 181.37,358.96 181.85,358.84C182.33,358.73 182.82,359.88 183.3,360.01C183.78,360.14 184.27,359.65 184.75,359.62C185.23,359.6 185.72,359.98 186.2,359.87C186.68,359.76 187.17,359.08 187.65,358.95C188.13,358.82 188.62,358.97 189.1,359.09C189.58,359.21 190.07,359.66 190.55,359.67C191.03,359.68 191.52,359.15 192,359.16C192.48,359.16 192.97,359.77 193.45,359.7C193.93,359.62 194.42,358.85 194.9,358.71C195.38,358.57 195.87,358.58 196.35,358.85C196.83,359.11 197.32,360.15 197.8,360.28C198.28,360.41 198.77,359.69 199.25,359.62C199.73,359.54 200.22,359.71 200.7,359.83C201.18,359.95 201.67,360.4 202.15,360.34C202.63,360.28 203.12,359.74 203.6,359.48C204.08,359.22 204.57,358.62 205.05,358.78C205.53,358.94 205.99,360.25 206.5,360.45C207.01,360.65 207.83,360.08 208.1,360" fill="none" stroke="#000" stroke-width="1.3" stroke-linejoin="round" stroke-linecap="round" />
<text x="239.7" y="256.6" font-size="13" text-anchor="start" font-weight="bold" font-style="normal" fill="#000" >e</text>
<line x1="280.6" y1="253.1" x2="280.6" y2="434.1" stroke="#444" stroke-width="1" />
<line x1="273.4" y1="421.5" x2="280.6" y2="421.5" stroke="#444" stroke-width="1" />
<text x="268.6" y="425.3" font-size="10.7" text-anchor="end" font-weight="normal" font-style="normal" fill="#111" >0</text>
<line x1="273.4" y1="391.75" x2="280.6" y2="391.75" stroke="#444" stroke-width="1" />
<text x="268.6" y="395.55" font-size="10.7" text-anchor="end" font-weight="normal" font-style="normal" fill="#111" >2</text>
<line x1="273.4" y1="362" x2="280.6" y2="362" stroke="#444" stroke-width="1" />
<text x="268.6" y="365.8" font-size="10.7" text-anchor="end" font-weight="normal" font-style="normal" fill="#111" >4</text>
<line x1="273.4" y1="332.25" x2="280.6" y2="332.25" stroke="#444" stroke-width="1" />
<text x="268.6" y="336.05" font-size="10.7" text-anchor="end" font-weight="normal" font-style="normal" fill="#111" >6</text>
<line x1="273.4" y1="302.5" x2="280.6" y2="302.5" stroke="#444" stroke-width="1" />
<text x="268.6" y="306.3" font-size="10.7" text-anchor="end" font-weight="normal" font-style="normal" fill="#111" >8</text>
<line x1="273.4" y1="272.75" x2="280.6" y2="272.75" stroke="#444" stroke-width="1" />
<text x="268.6" y="276.55" font-size="10.7" text-anchor="end" font-weight="normal" font-style="normal" fill="#111" >10</text>
<text transform="translate(248.2,400.7) rotate(-90)" font-size="10.8" fill="#111">Normalized absorbance</text>
<line x1="280.6" y1="434.1" x2="461.6" y2="434.1" stroke="#444" stroke-width="1" />
<line x1="282" y1="434.1" x2="282" y2="441.1" stroke="#444" stroke-width="1" />
<text x="282" y="454.9" font-size="10.7" text-anchor="middle" font-weight="normal" font-style="normal" fill="#111" >395</text>
<line x1="331.8" y1="434.1" x2="331.8" y2="441.1" stroke="#444" stroke-width="1" />
<text x="331.8" y="454.9" font-size="10.7" text-anchor="middle" font-weight="normal" font-style="normal" fill="#111" >400</text>
<line x1="381.6" y1="434.1" x2="381.6" y2="441.1" stroke="#444" stroke-width="1" />
<text x="381.6" y="454.9" font-size="10.7" text-anchor="middle" font-weight="normal" font-style="normal" fill="#111" >405</text>
<line x1="431.4" y1="434.1" x2="431.4" y2="441.1" stroke="#444" stroke-width="1" />
<text x="431.4" y="454.9" font-size="10.7" text-anchor="middle" font-weight="normal" font-style="normal" fill="#111" >410</text>
<text x="371.1" y="470.2" font-size="10.9" text-anchor="middle" font-weight="normal" font-style="normal" fill="#111" >Energy (eV)</text>
<line x1="288.1" y1="259.9" x2="308.9" y2="259.9" stroke="#000" stroke-width="1.7" />
<line x1="288.1" y1="272.2" x2="308.9" y2="272.2" stroke="#cf0b3b" stroke-width="1.7" />
<text x="313.2" y="263.6" font-size="10.7" text-anchor="start" font-weight="bold" font-style="normal" fill="#000" >3</text>
<text x="313.2" y="275.6" font-size="10.7" text-anchor="start" font-weight="bold" font-style="normal" fill="#000" >4</text>
<path d="M282.4,412.26 L284.77,411.83 L287.29,427 L289.83,409.49 L291.45,424.36 L293.55,418.86 L295.29,432.46 L297.63,410.45 L299.28,422.96 L300.78,423.45 L302.52,431.13 L304.34,426.54 L306.59,407.62 L308.85,408.05 L310.67,422.04 L312.33,414.74 L314.5,426.7 L316.37,407.52 L318.4,423.14 L320.67,403.93 L322.2,426.77 L323.72,410.8 L325.85,416.79 L327.55,417.06 L329.89,424.97 L331.76,403.05 L333.8,372 L334.6,330 L336.2,290 L337.9,271.3 L339.3,292 L340.6,330 L341.3,358 L342.94,379.31 L346.05,411.49 L348.43,412.56 L350.61,428.33 L352.8,406.2 L355.44,421.86 L358.16,422.45 L360.66,405.96 L362.7,427.34 L364.86,408.71 L367.62,424.01 L370.14,409.91 L372.49,434.37 L376.45,425.68 L379.83,407.12 L382.9,419.58 L386.1,424.62 L389.71,393.05 L392.45,415.75 L396.44,382.64 L400.85,416.25 L405.23,373.17 L408.36,408.94 L412.55,363.41 L416.64,377.35 L420.47,351.4 L424.07,347.84 L428.54,383.5 L432.86,379.36 L437.45,392.1 L442.39,387.81 L446.17,356.93 L451,406.9 L455.27,388.96 L459.7,417.64 L461.25,395" fill="none" stroke="#a2a2a2" stroke-width="1.05" stroke-linejoin="round" stroke-linecap="round" />
<path d="M282.4,413.14 L284.43,422.65 L286.66,412.02 L288.57,422.19 L290.96,413.43 L293.05,424.08 L295.16,423.8 L297.54,409.23 L299.41,431.17 L301.79,418.95 L303.51,423.86 L306.6,412 L307.5,380 L308.5,330 L309.4,290 L310.3,330 L311.5,372 L312.8,392 L314.58,410.89 L316.41,406.61 L318.88,421.07 L321.11,419.52 L323.14,424.72 L325.59,420.81 L327.95,424.22 L330.45,416.01 L332.36,418.55 L335.56,399.93 L338.46,415.83 L340.75,423.03 L343.55,426.18 L346.55,408.98 L349.12,417.82 L351.22,408.77 L353.81,410.36 L355.83,386.9 L358.26,395.24 L361.38,396.85 L364.43,399.46 L367,383.86 L369.46,385.69 L371.84,352.73 L374.95,362.33 L378.06,339.83 L381.93,348 L384.54,369.71 L387.19,365.69 L390.94,386.42 L394.91,373.89 L399.02,394.46 L403.46,398.16 L407.08,376.92 L409.85,413.16 L412.63,395.25 L415.3,413.87 L420.04,377.45 L422.77,386.27 L426.78,363.63 L431.5,408.19 L435.96,368.11 L440.72,423.47 L444.28,385.72 L446.85,379.37 L449.99,396.71 L454.62,424.67 L458.14,405.58 L460.77,415.04 L462.3,389.5" fill="none" stroke="#a2a2a2" stroke-width="1.05" stroke-linejoin="round" stroke-linecap="round" />
<path d="M282.4,421.88C282.69,421.79 283.53,421.41 284.16,421.36C284.79,421.31 285.53,421.85 286.17,421.6C286.82,421.36 287.39,420.64 288.01,419.9C288.64,419.16 289.28,416.98 289.92,417.16C290.55,417.35 291.18,420.57 291.83,421C292.49,421.42 293.17,419.74 293.86,419.71C294.54,419.68 295.26,420.95 295.94,420.8C296.62,420.65 297.27,418.53 297.94,418.82C298.61,419.1 299.33,422.28 299.96,422.54C300.59,422.8 301.1,420.68 301.72,420.38C302.35,420.08 303.18,421.44 303.71,420.76C304.24,420.07 304.52,417.88 304.9,416.25C305.28,414.62 305.69,413.04 306,411C306.31,408.96 306.5,409.17 306.75,404C307,398.83 307.24,389.83 307.5,380C307.76,370.17 308.05,354.67 308.3,345C308.55,335.33 308.82,327.18 309,322C309.18,316.82 309.25,314.57 309.4,313.9C309.55,313.23 309.7,313.65 309.9,318C310.1,322.35 310.33,332.17 310.6,340C310.87,347.83 311.22,358.67 311.5,365C311.78,371.33 312.05,374.67 312.3,378C312.55,381.33 312.68,380.92 313,385C313.32,389.08 313.62,398.33 314.25,402.5C314.88,406.67 315.92,407.08 316.75,410C317.58,412.92 318.62,417.82 319.25,420C319.88,422.18 319.88,422.89 320.5,423.1C321.12,423.31 322.27,421.03 323,421.25C323.73,421.47 324.17,424.82 324.9,424.4C325.63,423.98 326.67,419.07 327.4,418.75C328.12,418.43 328.52,422.71 329.25,422.5C329.98,422.29 331.02,419.38 331.75,417.5C332.48,415.62 332.88,413.54 333.6,411.25C334.33,408.96 335.41,405.21 336.1,403.75C336.79,402.29 337.12,401.67 337.75,402.5C338.38,403.33 339.23,406.25 339.9,408.75C340.57,411.25 341.13,415.52 341.75,417.5C342.37,419.48 342.98,420.39 343.6,420.6C344.23,420.81 344.87,420.1 345.5,418.75C346.13,417.4 346.77,413.54 347.4,412.5C348.02,411.46 348.42,412.4 349.25,412.5C350.08,412.6 351.57,414.35 352.4,413.1C353.23,411.85 353.61,408.68 354.25,405C354.89,401.32 355.62,393.78 356.25,391C356.88,388.22 357.29,386.8 358,388.3C358.71,389.8 359.88,397.53 360.5,400C361.12,402.47 361.21,403.52 361.75,403.1C362.29,402.68 362.89,400.1 363.75,397.5C364.61,394.9 366.17,390 366.9,387.5C367.62,385 367.48,385.21 368.1,382.5C368.72,379.79 369.87,375 370.6,371.25C371.33,367.5 371.87,363.23 372.5,360C373.13,356.77 373.61,353.82 374.4,351.9C375.19,349.98 376.22,348.5 377.25,348.5C378.28,348.5 379.73,350.61 380.6,351.9C381.48,353.19 381.87,354.07 382.5,356.25C383.13,358.43 383.57,362.5 384.4,365C385.23,367.5 386.67,370.42 387.5,371.25C388.33,372.08 388.67,370.11 389.4,370C390.13,369.89 391.17,369.35 391.9,370.6C392.62,371.85 393.13,375.77 393.75,377.5C394.37,379.23 394.88,380.45 395.6,381C396.33,381.55 397.37,380.65 398.1,380.8C398.83,380.95 399.37,381.62 400,381.9C400.63,382.18 401.27,382.19 401.9,382.5C402.52,382.81 403.23,383.33 403.75,383.75C404.27,384.17 404.38,384.04 405,385C405.62,385.96 406.77,387.83 407.5,389.5C408.23,391.17 408.67,393.04 409.4,395C410.13,396.96 410.97,400.42 411.9,401.25C412.83,402.08 413.97,400.42 415,400C416.03,399.58 417.06,399.58 418.1,398.75C419.14,397.92 420.35,396.46 421.25,395C422.15,393.54 422.77,391.45 423.5,390C424.23,388.55 424.85,386.75 425.6,386.3C426.35,385.85 427.27,387 428,387.3C428.73,387.6 429.04,387.44 430,388.1C430.96,388.76 432.5,390.52 433.75,391.25C435,391.98 436.46,390.62 437.5,392.5C438.54,394.38 438.85,400.42 440,402.5C441.15,404.58 442.94,404.9 444.4,405C445.86,405.1 447.4,403.93 448.75,403.1C450.1,402.27 451.25,400.42 452.5,400C453.75,399.58 455.21,400.28 456.25,400.6C457.29,400.92 457.92,402.62 458.75,401.9C459.58,401.17 460.66,397.48 461.25,396.25C461.84,395.02 462.12,394.79 462.3,394.5" fill="none" stroke="#cf0b3b" stroke-width="1.9" stroke-linejoin="round" stroke-linecap="round" />
<path d="M282.4,422.91C282.69,422.31 283.57,419.41 284.12,419.31C284.66,419.21 285.17,422.16 285.69,422.29C286.2,422.43 286.7,420.1 287.2,420.1C287.7,420.11 288.17,422.54 288.7,422.34C289.24,422.14 289.83,418.93 290.41,418.91C290.99,418.89 291.61,422.17 292.19,422.22C292.76,422.27 293.3,419.28 293.85,419.2C294.4,419.13 294.9,421.83 295.48,421.78C296.06,421.72 296.75,418.92 297.31,418.86C297.88,418.81 298.35,421.54 298.86,421.45C299.37,421.35 299.88,418.39 300.4,418.3C300.91,418.21 301.37,420.73 301.94,420.92C302.51,421.11 303.24,419.48 303.83,419.43C304.42,419.37 304.9,420.64 305.48,420.57C306.07,420.51 306.77,419.12 307.35,419.04C307.93,418.95 308.43,420.17 308.95,420.05C309.47,419.94 309.91,418.45 310.47,418.36C311.03,418.27 311.74,419.64 312.3,419.52C312.86,419.39 313.26,417.72 313.81,417.61C314.37,417.51 315.04,419.05 315.61,418.89C316.18,418.73 316.68,416.82 317.24,416.64C317.8,416.46 318.41,417.92 318.99,417.8C319.57,417.68 320.14,416.07 320.71,415.92C321.28,415.77 321.82,417.11 322.39,416.9C322.97,416.69 323.56,414.88 324.16,414.65C324.76,414.42 325.43,415.72 325.99,415.51C326.55,415.29 326.99,413.67 327.51,413.38C328.03,413.08 328.53,414.08 329.1,413.74C329.66,413.39 330.57,411.61 330.9,411.32C331.23,411.03 330.93,412.39 331.1,412C331.27,411.61 331.63,411.83 331.9,409C332.17,406.17 332.43,401.83 332.7,395C332.97,388.17 333.22,377.67 333.5,368C333.78,358.33 334.1,346.67 334.4,337C334.7,327.33 335,317.5 335.3,310C335.6,302.5 335.92,296.33 336.2,292C336.48,287.67 336.78,285.57 337,284C337.22,282.43 337.32,282.6 337.5,282.6C337.68,282.6 337.87,282.27 338.1,284C338.33,285.73 338.62,288.33 338.9,293C339.17,297.67 339.47,305 339.75,312C340.03,319 340.31,327.33 340.6,335C340.89,342.67 341.18,350.83 341.5,358C341.82,365.17 342.15,372.17 342.5,378C342.85,383.83 343.18,389.33 343.6,393C344.02,396.67 344.57,397.5 345,400C345.43,402.5 345.88,406.12 346.2,408C346.52,409.88 346.47,409.88 346.9,411.25C347.32,412.62 347.82,415.21 348.75,416.25C349.68,417.29 351.25,417.19 352.5,417.5C353.75,417.81 355.1,418.38 356.25,418.1C357.4,417.82 358.36,415.9 359.4,415.8C360.44,415.7 361.57,416.84 362.5,417.5C363.43,418.16 364.07,419.12 365,419.75C365.93,420.38 367.06,421.42 368.1,421.25C369.14,421.08 370.31,419.62 371.25,418.75C372.19,417.88 372.71,416.31 373.75,416C374.79,415.69 376.25,416.86 377.5,416.9C378.75,416.94 380.1,416.98 381.25,416.25C382.4,415.52 383.46,414.17 384.4,412.5C385.34,410.83 385.97,408.33 386.9,406.25C387.83,404.17 389.17,400.83 390,400C390.83,399.17 391.17,400.42 391.9,401.25C392.63,402.08 393.47,404.79 394.4,405C395.33,405.21 396.36,403.75 397.5,402.5C398.64,401.25 400,399.17 401.25,397.5C402.5,395.83 403.86,393.96 405,392.5C406.14,391.04 407.17,389.68 408.1,388.75C409.03,387.82 409.87,387.11 410.6,386.9C411.33,386.69 411.87,388.4 412.5,387.5C413.13,386.6 413.77,383.67 414.4,381.5C415.02,379.33 415.52,376.25 416.25,374.5C416.98,372.75 417.81,371.96 418.75,371C419.69,370.04 420.96,369.71 421.9,368.75C422.84,367.79 423.47,365.98 424.4,365.25C425.33,364.52 426.57,364.02 427.5,364.4C428.43,364.77 428.96,366.92 430,367.5C431.04,368.08 432.71,367.48 433.75,367.9C434.79,368.32 435.52,368.78 436.25,370C436.98,371.22 437.48,374.27 438.1,375.2C438.73,376.13 439.27,376.05 440,375.6C440.73,375.15 441.67,372.18 442.5,372.5C443.33,372.82 444.07,376.15 445,377.5C445.93,378.85 447.06,378.73 448.1,380.6C449.14,382.48 450.1,386.14 451.25,388.75C452.4,391.36 453.86,394.58 455,396.25C456.14,397.92 457.06,398.12 458.1,398.75C459.14,399.38 460.73,399.79 461.25,400" fill="none" stroke="#000" stroke-width="1.9" stroke-linejoin="round" stroke-linecap="round" />
<text x="480.4" y="254.6" font-size="13" text-anchor="start" font-weight="bold" font-style="normal" fill="#000" >f</text>
<text x="648.7" y="284.8" font-size="10.7" text-anchor="start" font-weight="bold" font-style="normal" fill="#111" >4</text>
<text x="623.1" y="302.75" font-size="10.7" text-anchor="start" font-weight="normal" font-style="normal" fill="#111" >67.0% N 2<tspan font-style="italic">p</tspan><tspan font-style="italic" font-size="7.8" dy="2.8">x</tspan></text>
<text x="626.6" y="320" font-size="10.7" text-anchor="start" font-weight="normal" font-style="normal" fill="#111" >1.9% N 2<tspan font-style="italic">s</tspan></text>
<text x="622.6" y="340" font-size="10.7" text-anchor="start" font-weight="normal" font-style="normal" fill="#111" >22.6% O 2<tspan font-style="italic">p</tspan><tspan font-style="italic" font-size="7.8" dy="2.8">x</tspan></text>
<text x="638.9" y="384.4" font-size="10.7" text-anchor="start" font-weight="normal" font-style="normal" fill="#111" >NO<tspan font-size="7.8" dy="3.2">2</tspan><tspan font-size="7.8" dy="-8.2" dx="0.6">2−</tspan></text>
<text x="623" y="402.5" font-size="10.7" text-anchor="start" font-weight="normal" font-style="normal" fill="#111" >59.4% N 2<tspan font-style="italic">p</tspan><tspan font-style="italic" font-size="7.8" dy="2.8">x</tspan></text>
<text x="626.6" y="420" font-size="10.7" text-anchor="start" font-weight="normal" font-style="normal" fill="#111" >1.3% N 2<tspan font-style="italic">s</tspan></text>
<text x="622.5" y="439.6" font-size="10.7" text-anchor="start" font-weight="normal" font-style="normal" fill="#111" >34.4% O 2<tspan font-style="italic">p</tspan><tspan font-style="italic" font-size="7.8" dy="2.8">x</tspan></text>
<defs>
<radialGradient id="blob" cx="0.42" cy="0.32" r="0.75">
<stop offset="0" stop-color="#f4d6d6"/>
<stop offset="0.06" stop-color="#b85a5a"/>
<stop offset="0.2" stop-color="#7a0c0c"/>
<stop offset="0.6" stop-color="#5a0101"/>
<stop offset="1" stop-color="#2a0000"/>
</radialGradient>
<radialGradient id="blob2" cx="0.5" cy="0.3" r="0.8">
<stop offset="0" stop-color="#6e0e0e"/>
<stop offset="0.6" stop-color="#4e0202"/>
<stop offset="1" stop-color="#240000"/>
</radialGradient>
</defs>
<line x1="518.5" y1="300.5" x2="538.6" y2="317" stroke="#4c4c4c" stroke-width="5.6" stroke-linecap="round"/>
<line x1="518.88" y1="300.04" x2="538.98" y2="316.54" stroke="#e4e4e4" stroke-width="0.9" stroke-linecap="butt"/>
<line x1="517.55" y1="301.66" x2="537.65" y2="318.16" stroke="#a4a4a4" stroke-width="0.7" stroke-linecap="butt"/>
<line x1="519.5" y1="300.5" x2="515.5" y2="297.2" stroke="#4e9a1e" stroke-width="3" stroke-linecap="round"/>
<line x1="519.65" y1="300.31" x2="515.65" y2="297.01" stroke="#78c93a" stroke-width="1.8" stroke-linecap="round"/>
<line x1="519.88" y1="300.04" x2="515.88" y2="296.74" stroke="#b9ef86" stroke-width="0.54" stroke-linecap="round"/>
<line x1="522.8" y1="306" x2="518.8" y2="305" stroke="#4e9a1e" stroke-width="3" stroke-linecap="round"/>
<line x1="522.86" y1="305.77" x2="518.86" y2="304.77" stroke="#78c93a" stroke-width="1.8" stroke-linecap="round"/>
<line x1="522.95" y1="305.42" x2="518.95" y2="304.42" stroke="#b9ef86" stroke-width="0.54" stroke-linecap="round"/>
<line x1="529.8" y1="307" x2="528.8" y2="302.8" stroke="#4e9a1e" stroke-width="3" stroke-linecap="round"/>
<line x1="529.57" y1="307.06" x2="528.57" y2="302.86" stroke="#78c93a" stroke-width="1.8" stroke-linecap="round"/>
<line x1="529.22" y1="307.14" x2="528.22" y2="302.94" stroke="#b9ef86" stroke-width="0.54" stroke-linecap="round"/>
<line x1="540.5" y1="316.5" x2="545" y2="318.8" stroke="#4e9a1e" stroke-width="3" stroke-linecap="round"/>
<line x1="540.61" y1="316.29" x2="545.11" y2="318.59" stroke="#78c93a" stroke-width="1.8" stroke-linecap="round"/>
<line x1="540.77" y1="315.97" x2="545.27" y2="318.27" stroke="#b9ef86" stroke-width="0.54" stroke-linecap="round"/>
<line x1="538.8" y1="316.5" x2="548.8" y2="287.5" stroke="#4c4c4c" stroke-width="5.8" stroke-linecap="round"/>
<line x1="538.23" y1="316.3" x2="548.23" y2="287.3" stroke="#e4e4e4" stroke-width="0.9" stroke-linecap="butt"/>
<line x1="540.22" y1="316.99" x2="550.22" y2="287.99" stroke="#a4a4a4" stroke-width="0.7" stroke-linecap="butt"/>
<line x1="547.6" y1="288" x2="549.2" y2="280.2" stroke="#4e9a1e" stroke-width="3.2" stroke-linecap="round"/>
<line x1="547.35" y1="287.95" x2="548.95" y2="280.15" stroke="#78c93a" stroke-width="1.92" stroke-linecap="round"/>
<line x1="546.97" y1="287.87" x2="548.57" y2="280.07" stroke="#b9ef86" stroke-width="0.58" stroke-linecap="round"/>
<line x1="550.4" y1="287" x2="552.2" y2="278.6" stroke="#4e9a1e" stroke-width="3.2" stroke-linecap="round"/>
<line x1="550.15" y1="286.95" x2="551.95" y2="278.55" stroke="#78c93a" stroke-width="1.92" stroke-linecap="round"/>
<line x1="549.77" y1="286.87" x2="551.57" y2="278.47" stroke="#b9ef86" stroke-width="0.58" stroke-linecap="round"/>
<line x1="540.6" y1="306.2" x2="540" y2="304.8" stroke="#4e9a1e" stroke-width="4" stroke-linecap="round"/>
<line x1="540.31" y1="306.33" x2="539.71" y2="304.93" stroke="#78c93a" stroke-width="2.4" stroke-linecap="round"/>
<line x1="539.86" y1="306.52" x2="539.26" y2="305.12" stroke="#b9ef86" stroke-width="0.72" stroke-linecap="round"/>
<line x1="546.5" y1="298.5" x2="547.3" y2="296.2" stroke="#4e9a1e" stroke-width="2.6" stroke-linecap="round"/>
<line x1="546.3" y1="298.43" x2="547.1" y2="296.13" stroke="#78c93a" stroke-width="1.56" stroke-linecap="round"/>
<line x1="546.01" y1="298.33" x2="546.81" y2="296.03" stroke="#b9ef86" stroke-width="0.47" stroke-linecap="round"/>
<line x1="515.2" y1="328.8" x2="514.3" y2="323" stroke="#595959" stroke-width="3.6" stroke-linecap="round"/>
<line x1="514.92" y1="328.84" x2="514.02" y2="323.04" stroke="#7f7f7f" stroke-width="2.16" stroke-linecap="round"/>
<line x1="514.49" y1="328.91" x2="513.59" y2="323.11" stroke="#bdbdbd" stroke-width="0.65" stroke-linecap="round"/>
<line x1="514.3" y1="323" x2="513.4" y2="317.2" stroke="#4e9a1e" stroke-width="3.6" stroke-linecap="round"/>
<line x1="514.02" y1="323.04" x2="513.12" y2="317.24" stroke="#78c93a" stroke-width="2.16" stroke-linecap="round"/>
<line x1="513.59" y1="323.11" x2="512.69" y2="317.31" stroke="#b9ef86" stroke-width="0.65" stroke-linecap="round"/>
<line x1="505.8" y1="337.2" x2="499.7" y2="336.1" stroke="#595959" stroke-width="3.6" stroke-linecap="round"/>
<line x1="505.85" y1="336.92" x2="499.75" y2="335.82" stroke="#7f7f7f" stroke-width="2.16" stroke-linecap="round"/>
<line x1="505.93" y1="336.49" x2="499.83" y2="335.39" stroke="#bdbdbd" stroke-width="0.65" stroke-linecap="round"/>
<line x1="499.7" y1="336.1" x2="493.6" y2="335" stroke="#4e9a1e" stroke-width="3.6" stroke-linecap="round"/>
<line x1="499.75" y1="335.82" x2="493.65" y2="334.72" stroke="#78c93a" stroke-width="2.16" stroke-linecap="round"/>
<line x1="499.83" y1="335.39" x2="493.73" y2="334.29" stroke="#b9ef86" stroke-width="0.65" stroke-linecap="round"/>
<line x1="506.8" y1="349.4" x2="503.1" y2="352.5" stroke="#595959" stroke-width="3.6" stroke-linecap="round"/>
<line x1="506.62" y1="349.18" x2="502.92" y2="352.28" stroke="#7f7f7f" stroke-width="2.16" stroke-linecap="round"/>
<line x1="506.34" y1="348.85" x2="502.64" y2="351.95" stroke="#bdbdbd" stroke-width="0.65" stroke-linecap="round"/>
<line x1="503.1" y1="352.5" x2="499.4" y2="355.6" stroke="#4e9a1e" stroke-width="3.6" stroke-linecap="round"/>
<line x1="502.92" y1="352.28" x2="499.22" y2="355.38" stroke="#78c93a" stroke-width="2.16" stroke-linecap="round"/>
<line x1="502.64" y1="351.95" x2="498.94" y2="355.05" stroke="#b9ef86" stroke-width="0.65" stroke-linecap="round"/>
<line x1="518" y1="350.7" x2="518.1" y2="355.95" stroke="#595959" stroke-width="3.6" stroke-linecap="round"/>
<line x1="517.71" y1="350.71" x2="517.81" y2="355.96" stroke="#7f7f7f" stroke-width="2.16" stroke-linecap="round"/>
<line x1="517.28" y1="350.71" x2="517.38" y2="355.96" stroke="#bdbdbd" stroke-width="0.65" stroke-linecap="round"/>
<line x1="518.1" y1="355.95" x2="518.2" y2="361.2" stroke="#4e9a1e" stroke-width="3.6" stroke-linecap="round"/>
<line x1="517.81" y1="355.96" x2="517.91" y2="361.21" stroke="#78c93a" stroke-width="2.16" stroke-linecap="round"/>
<line x1="517.38" y1="355.96" x2="517.48" y2="361.21" stroke="#b9ef86" stroke-width="0.65" stroke-linecap="round"/>
<line x1="527" y1="343.4" x2="531.1" y2="344.3" stroke="#595959" stroke-width="3.6" stroke-linecap="round"/>
<line x1="527.06" y1="343.12" x2="531.16" y2="344.02" stroke="#7f7f7f" stroke-width="2.16" stroke-linecap="round"/>
<line x1="527.15" y1="342.7" x2="531.25" y2="343.6" stroke="#bdbdbd" stroke-width="0.65" stroke-linecap="round"/>
<line x1="531.1" y1="344.3" x2="535.2" y2="345.2" stroke="#4e9a1e" stroke-width="3.6" stroke-linecap="round"/>
<line x1="531.16" y1="344.02" x2="535.26" y2="344.92" stroke="#78c93a" stroke-width="2.16" stroke-linecap="round"/>
<line x1="531.25" y1="343.6" x2="535.35" y2="344.5" stroke="#b9ef86" stroke-width="0.65" stroke-linecap="round"/>
<line x1="515.2" y1="328.8" x2="527" y2="332" stroke="#595959" stroke-width="3.6" stroke-linecap="round"/>
<line x1="515.28" y1="328.52" x2="527.08" y2="331.72" stroke="#7f7f7f" stroke-width="2.16" stroke-linecap="round"/>
<line x1="515.39" y1="328.11" x2="527.19" y2="331.31" stroke="#bdbdbd" stroke-width="0.65" stroke-linecap="round"/>
<line x1="527" y1="332" x2="527" y2="343.4" stroke="#595959" stroke-width="3.6" stroke-linecap="round"/>
<line x1="526.71" y1="332" x2="526.71" y2="343.4" stroke="#7f7f7f" stroke-width="2.16" stroke-linecap="round"/>
<line x1="526.28" y1="332" x2="526.28" y2="343.4" stroke="#bdbdbd" stroke-width="0.65" stroke-linecap="round"/>
<line x1="527" y1="343.4" x2="518" y2="350.7" stroke="#595959" stroke-width="3.6" stroke-linecap="round"/>
<line x1="526.82" y1="343.18" x2="517.82" y2="350.48" stroke="#7f7f7f" stroke-width="2.16" stroke-linecap="round"/>
<line x1="526.55" y1="342.84" x2="517.55" y2="350.14" stroke="#bdbdbd" stroke-width="0.65" stroke-linecap="round"/>
<line x1="518" y1="350.7" x2="506.8" y2="349.4" stroke="#595959" stroke-width="3.6" stroke-linecap="round"/>
<line x1="518.03" y1="350.41" x2="506.83" y2="349.11" stroke="#7f7f7f" stroke-width="2.16" stroke-linecap="round"/>
<line x1="518.08" y1="349.98" x2="506.88" y2="348.68" stroke="#bdbdbd" stroke-width="0.65" stroke-linecap="round"/>
<line x1="506.8" y1="349.4" x2="505.8" y2="337.2" stroke="#595959" stroke-width="3.6" stroke-linecap="round"/>
<line x1="506.51" y1="349.42" x2="505.51" y2="337.22" stroke="#7f7f7f" stroke-width="2.16" stroke-linecap="round"/>
<line x1="506.08" y1="349.46" x2="505.08" y2="337.26" stroke="#bdbdbd" stroke-width="0.65" stroke-linecap="round"/>
<line x1="505.8" y1="337.2" x2="515.2" y2="328.8" stroke="#595959" stroke-width="3.6" stroke-linecap="round"/>
<line x1="505.61" y1="336.99" x2="515.01" y2="328.59" stroke="#7f7f7f" stroke-width="2.16" stroke-linecap="round"/>
<line x1="505.32" y1="336.66" x2="514.72" y2="328.26" stroke="#bdbdbd" stroke-width="0.65" stroke-linecap="round"/>
<line x1="527" y1="332" x2="535" y2="325.9" stroke="#9a9a9a" stroke-width="3" stroke-linecap="round"/>
<line x1="526.85" y1="331.81" x2="534.85" y2="325.71" stroke="#d0d0d0" stroke-width="1.8" stroke-linecap="round"/>
<line x1="526.64" y1="331.52" x2="534.64" y2="325.42" stroke="#f4f4f4" stroke-width="0.54" stroke-linecap="round"/>
<line x1="535" y1="325.9" x2="539.6" y2="322.8" stroke="#c79595" stroke-width="3" stroke-linecap="round"/>
<line x1="534.87" y1="325.7" x2="539.47" y2="322.6" stroke="#e6b8b8" stroke-width="1.8" stroke-linecap="round"/>
<line x1="534.66" y1="325.4" x2="539.26" y2="322.3" stroke="#fbeaea" stroke-width="0.54" stroke-linecap="round"/>
<line x1="538.6" y1="319" x2="536.4" y2="324" stroke="#4e9a1e" stroke-width="3.2" stroke-linecap="round"/>
<line x1="538.37" y1="318.9" x2="536.17" y2="323.9" stroke="#78c93a" stroke-width="1.92" stroke-linecap="round"/>
<line x1="538.01" y1="318.74" x2="535.81" y2="323.74" stroke="#b9ef86" stroke-width="0.58" stroke-linecap="round"/>
<circle cx="539.8" cy="322.6" r="1.9" fill="#e2aeae"/>
<line x1="594.5" y1="289.4" x2="597.25" y2="284" stroke="#595959" stroke-width="3.6" stroke-linecap="round"/>
<line x1="594.24" y1="289.27" x2="596.99" y2="283.87" stroke="#7f7f7f" stroke-width="2.16" stroke-linecap="round"/>
<line x1="593.86" y1="289.07" x2="596.61" y2="283.67" stroke="#bdbdbd" stroke-width="0.65" stroke-linecap="round"/>
<line x1="597.25" y1="284" x2="600" y2="278.6" stroke="#4e9a1e" stroke-width="3.6" stroke-linecap="round"/>
<line x1="596.99" y1="283.87" x2="599.74" y2="278.47" stroke="#78c93a" stroke-width="2.16" stroke-linecap="round"/>
<line x1="596.61" y1="283.67" x2="599.36" y2="278.27" stroke="#b9ef86" stroke-width="0.65" stroke-linecap="round"/>
<line x1="583.8" y1="294.8" x2="581.35" y2="291.35" stroke="#595959" stroke-width="3.6" stroke-linecap="round"/>
<line x1="583.57" y1="294.97" x2="581.12" y2="291.52" stroke="#7f7f7f" stroke-width="2.16" stroke-linecap="round"/>
<line x1="583.21" y1="295.22" x2="580.76" y2="291.77" stroke="#bdbdbd" stroke-width="0.65" stroke-linecap="round"/>
<line x1="581.35" y1="291.35" x2="578.9" y2="287.9" stroke="#4e9a1e" stroke-width="3.6" stroke-linecap="round"/>
<line x1="581.12" y1="291.52" x2="578.67" y2="288.07" stroke="#78c93a" stroke-width="2.16" stroke-linecap="round"/>
<line x1="580.76" y1="291.77" x2="578.31" y2="288.32" stroke="#b9ef86" stroke-width="0.65" stroke-linecap="round"/>
<line x1="599.4" y1="295.9" x2="603.7" y2="293.3" stroke="#595959" stroke-width="3.6" stroke-linecap="round"/>
<line x1="599.25" y1="295.65" x2="603.55" y2="293.05" stroke="#7f7f7f" stroke-width="2.16" stroke-linecap="round"/>
<line x1="599.03" y1="295.28" x2="603.33" y2="292.68" stroke="#bdbdbd" stroke-width="0.65" stroke-linecap="round"/>
<line x1="603.7" y1="293.3" x2="608" y2="290.7" stroke="#4e9a1e" stroke-width="3.6" stroke-linecap="round"/>
<line x1="603.55" y1="293.05" x2="607.85" y2="290.45" stroke="#78c93a" stroke-width="2.16" stroke-linecap="round"/>
<line x1="603.33" y1="292.68" x2="607.63" y2="290.08" stroke="#b9ef86" stroke-width="0.65" stroke-linecap="round"/>
<line x1="595" y1="305.9" x2="596.75" y2="307.9" stroke="#595959" stroke-width="3.6" stroke-linecap="round"/>
<line x1="594.78" y1="306.09" x2="596.53" y2="308.09" stroke="#7f7f7f" stroke-width="2.16" stroke-linecap="round"/>
<line x1="594.46" y1="306.37" x2="596.21" y2="308.37" stroke="#bdbdbd" stroke-width="0.65" stroke-linecap="round"/>
<line x1="596.75" y1="307.9" x2="598.5" y2="309.9" stroke="#4e9a1e" stroke-width="3.6" stroke-linecap="round"/>
<line x1="596.53" y1="308.09" x2="598.28" y2="310.09" stroke="#78c93a" stroke-width="2.16" stroke-linecap="round"/>
<line x1="596.21" y1="308.37" x2="597.96" y2="310.37" stroke="#b9ef86" stroke-width="0.65" stroke-linecap="round"/>
<line x1="583.8" y1="294.8" x2="594.5" y2="289.4" stroke="#595959" stroke-width="3.6" stroke-linecap="round"/>
<line x1="583.67" y1="294.54" x2="594.37" y2="289.14" stroke="#7f7f7f" stroke-width="2.16" stroke-linecap="round"/>
<line x1="583.48" y1="294.16" x2="594.18" y2="288.76" stroke="#bdbdbd" stroke-width="0.65" stroke-linecap="round"/>
<line x1="594.5" y1="289.4" x2="599.4" y2="295.9" stroke="#595959" stroke-width="3.6" stroke-linecap="round"/>
<line x1="594.27" y1="289.57" x2="599.17" y2="296.07" stroke="#7f7f7f" stroke-width="2.16" stroke-linecap="round"/>
<line x1="593.93" y1="289.83" x2="598.83" y2="296.33" stroke="#bdbdbd" stroke-width="0.65" stroke-linecap="round"/>
<line x1="599.4" y1="295.9" x2="595" y2="305.9" stroke="#595959" stroke-width="3.6" stroke-linecap="round"/>
<line x1="599.14" y1="295.78" x2="594.74" y2="305.78" stroke="#7f7f7f" stroke-width="2.16" stroke-linecap="round"/>
<line x1="598.74" y1="295.61" x2="594.34" y2="305.61" stroke="#bdbdbd" stroke-width="0.65" stroke-linecap="round"/>
<line x1="595" y1="305.9" x2="584.4" y2="310.8" stroke="#595959" stroke-width="3.6" stroke-linecap="round"/>
<line x1="594.88" y1="305.64" x2="584.28" y2="310.54" stroke="#7f7f7f" stroke-width="2.16" stroke-linecap="round"/>
<line x1="594.7" y1="305.25" x2="584.1" y2="310.15" stroke="#bdbdbd" stroke-width="0.65" stroke-linecap="round"/>
<line x1="584.4" y1="310.8" x2="580.4" y2="305.6" stroke="#595959" stroke-width="3.6" stroke-linecap="round"/>
<line x1="584.17" y1="310.98" x2="580.17" y2="305.78" stroke="#7f7f7f" stroke-width="2.16" stroke-linecap="round"/>
<line x1="583.83" y1="311.24" x2="579.83" y2="306.04" stroke="#bdbdbd" stroke-width="0.65" stroke-linecap="round"/>
<line x1="580.4" y1="305.6" x2="583.8" y2="294.8" stroke="#595959" stroke-width="3.6" stroke-linecap="round"/>
<line x1="580.13" y1="305.51" x2="583.53" y2="294.71" stroke="#7f7f7f" stroke-width="2.16" stroke-linecap="round"/>
<line x1="579.71" y1="305.38" x2="583.11" y2="294.58" stroke="#bdbdbd" stroke-width="0.65" stroke-linecap="round"/>
<line x1="584.4" y1="310.8" x2="582" y2="318.5" stroke="#595959" stroke-width="3.2" stroke-linecap="round"/>
<line x1="584.16" y1="310.72" x2="581.76" y2="318.42" stroke="#7f7f7f" stroke-width="1.92" stroke-linecap="round"/>
<line x1="583.79" y1="310.61" x2="581.39" y2="318.31" stroke="#bdbdbd" stroke-width="0.58" stroke-linecap="round"/>
<line x1="582" y1="318.5" x2="580" y2="323.8" stroke="#c79595" stroke-width="3" stroke-linecap="round"/>
<line x1="581.78" y1="318.42" x2="579.78" y2="323.72" stroke="#e6b8b8" stroke-width="1.8" stroke-linecap="round"/>
<line x1="581.44" y1="318.29" x2="579.44" y2="323.59" stroke="#fbeaea" stroke-width="0.54" stroke-linecap="round"/>
<line x1="571.6" y1="313" x2="573.2" y2="333" stroke="#595959" stroke-width="3" stroke-linecap="round"/>
<line x1="571.36" y1="313.02" x2="572.96" y2="333.02" stroke="#7f7f7f" stroke-width="1.8" stroke-linecap="round"/>
<line x1="571" y1="313.05" x2="572.6" y2="333.05" stroke="#bdbdbd" stroke-width="0.54" stroke-linecap="round"/>
<line x1="575" y1="312.5" x2="577" y2="333" stroke="#777" stroke-width="3" stroke-linecap="round"/>
<line x1="574.76" y1="312.52" x2="576.76" y2="333.02" stroke="#cfcfcf" stroke-width="1.8" stroke-linecap="round"/>
<line x1="574.4" y1="312.56" x2="576.4" y2="333.06" stroke="#f5f5f5" stroke-width="0.54" stroke-linecap="round"/>
<line x1="573.2" y1="333" x2="573.6" y2="339.8" stroke="#4e9a1e" stroke-width="3" stroke-linecap="round"/>
<line x1="572.96" y1="333.01" x2="573.36" y2="339.81" stroke="#78c93a" stroke-width="1.8" stroke-linecap="round"/>
<line x1="572.6" y1="333.04" x2="573" y2="339.84" stroke="#b9ef86" stroke-width="0.54" stroke-linecap="round"/>
<line x1="577" y1="333" x2="578.2" y2="340.8" stroke="#4e9a1e" stroke-width="3" stroke-linecap="round"/>
<line x1="576.76" y1="333.04" x2="577.96" y2="340.84" stroke="#78c93a" stroke-width="1.8" stroke-linecap="round"/>
<line x1="576.41" y1="333.09" x2="577.61" y2="340.89" stroke="#b9ef86" stroke-width="0.54" stroke-linecap="round"/>
<line x1="570.6" y1="311.5" x2="568.6" y2="304.6" stroke="#4e9a1e" stroke-width="3" stroke-linecap="round"/>
<line x1="570.37" y1="311.57" x2="568.37" y2="304.67" stroke="#78c93a" stroke-width="1.8" stroke-linecap="round"/>
<line x1="570.02" y1="311.67" x2="568.02" y2="304.77" stroke="#b9ef86" stroke-width="0.54" stroke-linecap="round"/>
<line x1="573.8" y1="311" x2="573.6" y2="303.8" stroke="#4e9a1e" stroke-width="3" stroke-linecap="round"/>
<line x1="573.56" y1="311.01" x2="573.36" y2="303.81" stroke="#78c93a" stroke-width="1.8" stroke-linecap="round"/>
<line x1="573.2" y1="311.02" x2="573" y2="303.82" stroke="#b9ef86" stroke-width="0.54" stroke-linecap="round"/>
<line x1="569" y1="311.2" x2="575.6" y2="309.6" stroke="#4e9a1e" stroke-width="3.4" stroke-linecap="round"/>
<line x1="568.94" y1="310.94" x2="575.54" y2="309.34" stroke="#78c93a" stroke-width="2.04" stroke-linecap="round"/>
<line x1="568.84" y1="310.54" x2="575.44" y2="308.94" stroke="#b9ef86" stroke-width="0.61" stroke-linecap="round"/>
<line x1="591.4" y1="335.5" x2="584.8" y2="334.2" stroke="#4e9a1e" stroke-width="3" stroke-linecap="round"/>
<line x1="591.45" y1="335.26" x2="584.85" y2="333.96" stroke="#78c93a" stroke-width="1.8" stroke-linecap="round"/>
<line x1="591.52" y1="334.91" x2="584.92" y2="333.61" stroke="#b9ef86" stroke-width="0.54" stroke-linecap="round"/>
<line x1="597.2" y1="338.5" x2="598.4" y2="333.6" stroke="#4e9a1e" stroke-width="2.6" stroke-linecap="round"/>
<line x1="597" y1="338.45" x2="598.2" y2="333.55" stroke="#78c93a" stroke-width="1.56" stroke-linecap="round"/>
<line x1="596.69" y1="338.38" x2="597.89" y2="333.48" stroke="#b9ef86" stroke-width="0.47" stroke-linecap="round"/>
<line x1="580.2" y1="325.6" x2="585.6" y2="329.6" stroke="#c79595" stroke-width="3" stroke-linecap="round"/>
<line x1="580.34" y1="325.41" x2="585.74" y2="329.41" stroke="#e6b8b8" stroke-width="1.8" stroke-linecap="round"/>
<line x1="580.56" y1="325.12" x2="585.96" y2="329.12" stroke="#fbeaea" stroke-width="0.54" stroke-linecap="round"/>
<line x1="585.6" y1="329.6" x2="612.5" y2="352" stroke="#5d5d5d" stroke-width="3.2" stroke-linecap="round"/>
<line x1="585.76" y1="329.4" x2="612.66" y2="351.8" stroke="#9a9a9a" stroke-width="1.92" stroke-linecap="round"/>
<line x1="586.01" y1="329.11" x2="612.91" y2="351.51" stroke="#f0f0f0" stroke-width="0.58" stroke-linecap="round"/>
<line x1="587.6" y1="334.6" x2="614.2" y2="357.4" stroke="#5d5d5d" stroke-width="3.2" stroke-linecap="round"/>
<line x1="587.77" y1="334.41" x2="614.37" y2="357.21" stroke="#9a9a9a" stroke-width="1.92" stroke-linecap="round"/>
<line x1="588.02" y1="334.11" x2="614.62" y2="356.91" stroke="#f0f0f0" stroke-width="0.58" stroke-linecap="round"/>
<line x1="589.5" y1="334" x2="612" y2="353.5" stroke="#8d8d8d" stroke-width="2.2" stroke-linecap="round"/>
<line x1="589.62" y1="333.87" x2="612.12" y2="353.37" stroke="#c8c8c8" stroke-width="1.32" stroke-linecap="round"/>
<line x1="589.79" y1="333.67" x2="612.29" y2="353.17" stroke="#f6f6f6" stroke-width="0.4" stroke-linecap="round"/>
<line x1="585.6" y1="329.6" x2="587.6" y2="334.6" stroke="#595959" stroke-width="3" stroke-linecap="round"/>
<line x1="585.38" y1="329.69" x2="587.38" y2="334.69" stroke="#7f7f7f" stroke-width="1.8" stroke-linecap="round"/>
<line x1="585.04" y1="329.82" x2="587.04" y2="334.82" stroke="#bdbdbd" stroke-width="0.54" stroke-linecap="round"/>
<line x1="612.5" y1="352" x2="614.2" y2="357.4" stroke="#595959" stroke-width="3" stroke-linecap="round"/>
<line x1="612.27" y1="352.07" x2="613.97" y2="357.47" stroke="#7f7f7f" stroke-width="1.8" stroke-linecap="round"/>
<line x1="611.93" y1="352.18" x2="613.63" y2="357.58" stroke="#bdbdbd" stroke-width="0.54" stroke-linecap="round"/>
<line x1="601" y1="344" x2="602.2" y2="347.4" stroke="#595959" stroke-width="3" stroke-linecap="round"/>
<line x1="600.77" y1="344.08" x2="601.97" y2="347.48" stroke="#7f7f7f" stroke-width="1.8" stroke-linecap="round"/>
<line x1="600.43" y1="344.2" x2="601.63" y2="347.6" stroke="#bdbdbd" stroke-width="0.54" stroke-linecap="round"/>
<line x1="602.2" y1="347.4" x2="603.4" y2="350.8" stroke="#4e9a1e" stroke-width="3" stroke-linecap="round"/>
<line x1="601.97" y1="347.48" x2="603.17" y2="350.88" stroke="#78c93a" stroke-width="1.8" stroke-linecap="round"/>
<line x1="601.63" y1="347.6" x2="602.83" y2="351" stroke="#b9ef86" stroke-width="0.54" stroke-linecap="round"/>
<line x1="607.5" y1="347.5" x2="611.15" y2="348.05" stroke="#595959" stroke-width="3" stroke-linecap="round"/>
<line x1="607.54" y1="347.26" x2="611.19" y2="347.81" stroke="#7f7f7f" stroke-width="1.8" stroke-linecap="round"/>
<line x1="607.59" y1="346.91" x2="611.24" y2="347.46" stroke="#bdbdbd" stroke-width="0.54" stroke-linecap="round"/>
<line x1="611.15" y1="348.05" x2="614.8" y2="348.6" stroke="#4e9a1e" stroke-width="3" stroke-linecap="round"/>
<line x1="611.19" y1="347.81" x2="614.84" y2="348.36" stroke="#78c93a" stroke-width="1.8" stroke-linecap="round"/>
<line x1="611.24" y1="347.46" x2="614.89" y2="348.01" stroke="#b9ef86" stroke-width="0.54" stroke-linecap="round"/>
<line x1="613.6" y1="354.2" x2="617.1" y2="357.1" stroke="#595959" stroke-width="3.2" stroke-linecap="round"/>
<line x1="613.76" y1="354" x2="617.26" y2="356.9" stroke="#7f7f7f" stroke-width="1.92" stroke-linecap="round"/>
<line x1="614.01" y1="353.71" x2="617.51" y2="356.61" stroke="#bdbdbd" stroke-width="0.58" stroke-linecap="round"/>
<line x1="617.1" y1="357.1" x2="620.6" y2="360" stroke="#4e9a1e" stroke-width="3.2" stroke-linecap="round"/>
<line x1="617.26" y1="356.9" x2="620.76" y2="359.8" stroke="#78c93a" stroke-width="1.92" stroke-linecap="round"/>
<line x1="617.51" y1="356.61" x2="621.01" y2="359.51" stroke="#b9ef86" stroke-width="0.58" stroke-linecap="round"/>
<circle cx="578.6" cy="324.6" r="2.0" fill="#e2aeae"/>
<ellipse cx="558.9" cy="328.42" rx="4.82" ry="3.6" fill="url(#blob2)"/>
<ellipse cx="548.1" cy="331.79" rx="5.33" ry="4.81" fill="url(#blob2)" transform="rotate(10 548.1 331.79)"/>
<ellipse cx="569.7" cy="331.79" rx="5.33" ry="4.81" fill="url(#blob2)" transform="rotate(-10 569.7 331.79)"/>
<ellipse cx="558.9" cy="319.64" rx="7.34" ry="8.78" fill="url(#blob)"/>
<ellipse cx="546.59" cy="327.78" rx="6.34" ry="5.54" fill="url(#blob)" transform="rotate(22 546.59 327.78)"/>
<circle cx="553.64" cy="327.06" r="0.9" fill="#ee2020"/>
<circle cx="552.92" cy="327.27" r="0.54" fill="#3535ff"/>
<ellipse cx="571.21" cy="327.78" rx="6.34" ry="5.54" fill="url(#blob)" transform="rotate(-22 571.21 327.78)"/>
<circle cx="564.16" cy="327.06" r="0.9" fill="#ee2020"/>
<circle cx="564.88" cy="327.27" r="0.54" fill="#3535ff"/>
<ellipse cx="560.1" cy="409.8" rx="6.7" ry="5" fill="url(#blob2)"/>
<ellipse cx="545.1" cy="418.2" rx="7.4" ry="6" fill="url(#blob2)" transform="rotate(10 545.1 418.2)"/>
<ellipse cx="575.1" cy="418.2" rx="7.4" ry="6" fill="url(#blob2)" transform="rotate(-10 575.1 418.2)"/>
<ellipse cx="560.1" cy="397.6" rx="10.2" ry="12.2" fill="url(#blob)"/>
<ellipse cx="543" cy="408.9" rx="8.8" ry="7.7" fill="url(#blob)" transform="rotate(22 543 408.9)"/>
<circle cx="552.8" cy="407.9" r="1.25" fill="#ee2020"/>
<circle cx="551.8" cy="408.2" r="0.75" fill="#3535ff"/>
<ellipse cx="577.2" cy="408.9" rx="8.8" ry="7.7" fill="url(#blob)" transform="rotate(-22 577.2 408.9)"/>
<circle cx="567.4" cy="407.9" r="1.25" fill="#ee2020"/>
<circle cx="568.4" cy="408.2" r="0.75" fill="#3535ff"/>
<text x="559.1" y="364.5" font-size="10" text-anchor="middle" font-weight="normal" font-style="normal" fill="#1f1fff" >N</text>
<text x="543.3" y="373.6" font-size="10" text-anchor="middle" font-weight="normal" font-style="normal" fill="#ff1f1f" >O</text>
<text x="574.4" y="373.6" font-size="10" text-anchor="middle" font-weight="normal" font-style="normal" fill="#ff1f1f" >O</text>
<line x1="548.1" y1="367.4" x2="554.8" y2="363.6" stroke="#222" stroke-width="0.9" />
<line x1="549.6" y1="369.8" x2="555.4" y2="366.3" stroke="#222" stroke-width="0.9" stroke-dasharray="2.2,1"/>
<line x1="563.1" y1="363.6" x2="569.8" y2="367.4" stroke="#222" stroke-width="0.9" />
<line x1="562.7" y1="366.3" x2="568.6" y2="369.8" stroke="#222" stroke-width="0.9" stroke-dasharray="2.2,1"/>
<text x="577.2" y="359.6" font-size="10" text-anchor="start" font-weight="normal" font-style="normal" fill="#111" >2-</text>
<line x1="516.75" y1="404" x2="516.75" y2="448" stroke="#000" stroke-width="1.1" />
<path d="M516.75,399.3 L513.1,406.3 L516.75,404.8 L520.4,406.3 Z" fill="#000"/>
<line x1="516.75" y1="448" x2="559" y2="448" stroke="#000" stroke-width="1.1" />
<path d="M563.6,448 L556.6,444.4 L558.1,448 L556.6,451.6 Z" fill="#000"/>
<circle cx="516.75" cy="447.8" r="11.6" fill="none" stroke="#000" stroke-width="1.3"/>
<text x="516.4" y="392.2" font-size="10.7" text-anchor="middle" font-weight="normal" font-style="italic" fill="#111" >z</text>
<text x="528.2" y="435.6" font-size="10.7" text-anchor="middle" font-weight="normal" font-style="italic" fill="#111" >x</text>
<text x="576.2" y="454.2" font-size="10.7" text-anchor="middle" font-weight="normal" font-style="italic" fill="#111" >y</text>
</svg>
</body></html>
